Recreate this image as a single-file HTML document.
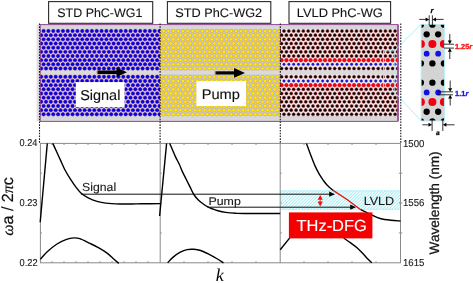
<!DOCTYPE html>
<html><head><meta charset="utf-8"><style>
html,body{margin:0;padding:0;background:#fff;width:473px;height:283px;overflow:hidden}
svg{display:block}
text{text-rendering:geometricPrecision;font-family:"Liberation Sans",Arial,sans-serif}
.serif{font-family:"Liberation Serif","Times New Roman",serif}
</style></head><body>
<svg width="473" height="283" viewBox="0 0 473 283">
<defs>
<clipPath id="c1"><rect x="40" y="24.5" width="120" height="96.5"/></clipPath>
<clipPath id="c2"><rect x="160" y="24.5" width="120" height="96.5"/></clipPath>
<clipPath id="c3"><rect x="280" y="24.5" width="118.5" height="96.5"/></clipPath>
<clipPath id="cu"><rect x="421.1" y="24.3" width="23.3" height="96.6"/></clipPath>
<pattern id="hatch" patternUnits="userSpaceOnUse" width="2.2" height="2.2" patternTransform="rotate(45)">
<rect width="2.2" height="2.2" fill="#fafefe"/><rect width="0.9" height="2.2" fill="#a4ecf2"/></pattern>
</defs>

<rect x="48.6" y="1.6" width="104.1" height="21.7" fill="#fff" stroke="#2a2a2a" stroke-width="1.1"/>
<text x="57.34" y="16.7" font-size="12.36" textLength="84.97" lengthAdjust="spacingAndGlyphs" fill="#141414" stroke="#141414" stroke-width="0.12">STD PhC-WG1</text>
<rect x="167.4" y="1.6" width="103.4" height="21.7" fill="#fff" stroke="#2a2a2a" stroke-width="1.1"/>
<text x="175.33" y="16.7" font-size="12.36" textLength="86.83" lengthAdjust="spacingAndGlyphs" fill="#141414" stroke="#141414" stroke-width="0.12">STD PhC-WG2</text>
<rect x="289.0" y="1.6" width="101.60000000000002" height="21.7" fill="#fff" stroke="#2a2a2a" stroke-width="1.1"/>
<text x="296.84" y="16.7" font-size="12.36" textLength="85.92" lengthAdjust="spacingAndGlyphs" fill="#141414" stroke="#141414" stroke-width="0.12">LVLD PhC-WG</text>
<rect x="36.6" y="24.5" width="2.6" height="96.6" fill="#dedede"/>
<g clip-path="url(#c1)">
<rect x="40" y="24.5" width="120" height="97" fill="#e0c8cc"/>
<rect x="40" y="24.5" width="120" height="4.6" fill="#d8d6d8"/>
<rect x="40" y="116" width="120" height="5.5" fill="#d8d6d8"/>
<rect x="40" y="70.3" width="120" height="4.3" fill="#dadada"/>
<g fill="#0000f0" stroke="#3400a0" stroke-width="0.5"><circle cx="38.77" cy="31.00" r="1.7"/><circle cx="43.60" cy="31.00" r="1.7"/><circle cx="48.43" cy="31.00" r="1.7"/><circle cx="53.26" cy="31.00" r="1.7"/><circle cx="58.09" cy="31.00" r="1.7"/><circle cx="62.92" cy="31.00" r="1.7"/><circle cx="67.75" cy="31.00" r="1.7"/><circle cx="72.58" cy="31.00" r="1.7"/><circle cx="77.41" cy="31.00" r="1.7"/><circle cx="82.24" cy="31.00" r="1.7"/><circle cx="87.07" cy="31.00" r="1.7"/><circle cx="91.90" cy="31.00" r="1.7"/><circle cx="96.73" cy="31.00" r="1.7"/><circle cx="101.56" cy="31.00" r="1.7"/><circle cx="106.39" cy="31.00" r="1.7"/><circle cx="111.22" cy="31.00" r="1.7"/><circle cx="116.05" cy="31.00" r="1.7"/><circle cx="120.88" cy="31.00" r="1.7"/><circle cx="125.71" cy="31.00" r="1.7"/><circle cx="130.54" cy="31.00" r="1.7"/><circle cx="135.37" cy="31.00" r="1.7"/><circle cx="140.20" cy="31.00" r="1.7"/><circle cx="145.03" cy="31.00" r="1.7"/><circle cx="149.86" cy="31.00" r="1.7"/><circle cx="154.69" cy="31.00" r="1.7"/><circle cx="159.52" cy="31.00" r="1.7"/><circle cx="41.19" cy="35.16" r="1.7"/><circle cx="46.02" cy="35.16" r="1.7"/><circle cx="50.84" cy="35.16" r="1.7"/><circle cx="55.67" cy="35.16" r="1.7"/><circle cx="60.50" cy="35.16" r="1.7"/><circle cx="65.33" cy="35.16" r="1.7"/><circle cx="70.16" cy="35.16" r="1.7"/><circle cx="74.99" cy="35.16" r="1.7"/><circle cx="79.82" cy="35.16" r="1.7"/><circle cx="84.65" cy="35.16" r="1.7"/><circle cx="89.48" cy="35.16" r="1.7"/><circle cx="94.31" cy="35.16" r="1.7"/><circle cx="99.14" cy="35.16" r="1.7"/><circle cx="103.97" cy="35.16" r="1.7"/><circle cx="108.80" cy="35.16" r="1.7"/><circle cx="113.63" cy="35.16" r="1.7"/><circle cx="118.46" cy="35.16" r="1.7"/><circle cx="123.29" cy="35.16" r="1.7"/><circle cx="128.12" cy="35.16" r="1.7"/><circle cx="132.95" cy="35.16" r="1.7"/><circle cx="137.78" cy="35.16" r="1.7"/><circle cx="142.62" cy="35.16" r="1.7"/><circle cx="147.45" cy="35.16" r="1.7"/><circle cx="152.28" cy="35.16" r="1.7"/><circle cx="157.11" cy="35.16" r="1.7"/><circle cx="161.94" cy="35.16" r="1.7"/><circle cx="38.77" cy="39.33" r="1.7"/><circle cx="43.60" cy="39.33" r="1.7"/><circle cx="48.43" cy="39.33" r="1.7"/><circle cx="53.26" cy="39.33" r="1.7"/><circle cx="58.09" cy="39.33" r="1.7"/><circle cx="62.92" cy="39.33" r="1.7"/><circle cx="67.75" cy="39.33" r="1.7"/><circle cx="72.58" cy="39.33" r="1.7"/><circle cx="77.41" cy="39.33" r="1.7"/><circle cx="82.24" cy="39.33" r="1.7"/><circle cx="87.07" cy="39.33" r="1.7"/><circle cx="91.90" cy="39.33" r="1.7"/><circle cx="96.73" cy="39.33" r="1.7"/><circle cx="101.56" cy="39.33" r="1.7"/><circle cx="106.39" cy="39.33" r="1.7"/><circle cx="111.22" cy="39.33" r="1.7"/><circle cx="116.05" cy="39.33" r="1.7"/><circle cx="120.88" cy="39.33" r="1.7"/><circle cx="125.71" cy="39.33" r="1.7"/><circle cx="130.54" cy="39.33" r="1.7"/><circle cx="135.37" cy="39.33" r="1.7"/><circle cx="140.20" cy="39.33" r="1.7"/><circle cx="145.03" cy="39.33" r="1.7"/><circle cx="149.86" cy="39.33" r="1.7"/><circle cx="154.69" cy="39.33" r="1.7"/><circle cx="159.52" cy="39.33" r="1.7"/><circle cx="41.19" cy="43.50" r="1.7"/><circle cx="46.02" cy="43.50" r="1.7"/><circle cx="50.84" cy="43.50" r="1.7"/><circle cx="55.67" cy="43.50" r="1.7"/><circle cx="60.50" cy="43.50" r="1.7"/><circle cx="65.33" cy="43.50" r="1.7"/><circle cx="70.16" cy="43.50" r="1.7"/><circle cx="74.99" cy="43.50" r="1.7"/><circle cx="79.82" cy="43.50" r="1.7"/><circle cx="84.65" cy="43.50" r="1.7"/><circle cx="89.48" cy="43.50" r="1.7"/><circle cx="94.31" cy="43.50" r="1.7"/><circle cx="99.14" cy="43.50" r="1.7"/><circle cx="103.97" cy="43.50" r="1.7"/><circle cx="108.80" cy="43.50" r="1.7"/><circle cx="113.63" cy="43.50" r="1.7"/><circle cx="118.46" cy="43.50" r="1.7"/><circle cx="123.29" cy="43.50" r="1.7"/><circle cx="128.12" cy="43.50" r="1.7"/><circle cx="132.95" cy="43.50" r="1.7"/><circle cx="137.78" cy="43.50" r="1.7"/><circle cx="142.62" cy="43.50" r="1.7"/><circle cx="147.45" cy="43.50" r="1.7"/><circle cx="152.28" cy="43.50" r="1.7"/><circle cx="157.11" cy="43.50" r="1.7"/><circle cx="161.94" cy="43.50" r="1.7"/><circle cx="38.77" cy="47.66" r="1.7"/><circle cx="43.60" cy="47.66" r="1.7"/><circle cx="48.43" cy="47.66" r="1.7"/><circle cx="53.26" cy="47.66" r="1.7"/><circle cx="58.09" cy="47.66" r="1.7"/><circle cx="62.92" cy="47.66" r="1.7"/><circle cx="67.75" cy="47.66" r="1.7"/><circle cx="72.58" cy="47.66" r="1.7"/><circle cx="77.41" cy="47.66" r="1.7"/><circle cx="82.24" cy="47.66" r="1.7"/><circle cx="87.07" cy="47.66" r="1.7"/><circle cx="91.90" cy="47.66" r="1.7"/><circle cx="96.73" cy="47.66" r="1.7"/><circle cx="101.56" cy="47.66" r="1.7"/><circle cx="106.39" cy="47.66" r="1.7"/><circle cx="111.22" cy="47.66" r="1.7"/><circle cx="116.05" cy="47.66" r="1.7"/><circle cx="120.88" cy="47.66" r="1.7"/><circle cx="125.71" cy="47.66" r="1.7"/><circle cx="130.54" cy="47.66" r="1.7"/><circle cx="135.37" cy="47.66" r="1.7"/><circle cx="140.20" cy="47.66" r="1.7"/><circle cx="145.03" cy="47.66" r="1.7"/><circle cx="149.86" cy="47.66" r="1.7"/><circle cx="154.69" cy="47.66" r="1.7"/><circle cx="159.52" cy="47.66" r="1.7"/><circle cx="41.19" cy="51.83" r="1.7"/><circle cx="46.02" cy="51.83" r="1.7"/><circle cx="50.84" cy="51.83" r="1.7"/><circle cx="55.67" cy="51.83" r="1.7"/><circle cx="60.50" cy="51.83" r="1.7"/><circle cx="65.33" cy="51.83" r="1.7"/><circle cx="70.16" cy="51.83" r="1.7"/><circle cx="74.99" cy="51.83" r="1.7"/><circle cx="79.82" cy="51.83" r="1.7"/><circle cx="84.65" cy="51.83" r="1.7"/><circle cx="89.48" cy="51.83" r="1.7"/><circle cx="94.31" cy="51.83" r="1.7"/><circle cx="99.14" cy="51.83" r="1.7"/><circle cx="103.97" cy="51.83" r="1.7"/><circle cx="108.80" cy="51.83" r="1.7"/><circle cx="113.63" cy="51.83" r="1.7"/><circle cx="118.46" cy="51.83" r="1.7"/><circle cx="123.29" cy="51.83" r="1.7"/><circle cx="128.12" cy="51.83" r="1.7"/><circle cx="132.95" cy="51.83" r="1.7"/><circle cx="137.78" cy="51.83" r="1.7"/><circle cx="142.62" cy="51.83" r="1.7"/><circle cx="147.45" cy="51.83" r="1.7"/><circle cx="152.28" cy="51.83" r="1.7"/><circle cx="157.11" cy="51.83" r="1.7"/><circle cx="161.94" cy="51.83" r="1.7"/><circle cx="38.77" cy="55.99" r="1.7"/><circle cx="43.60" cy="55.99" r="1.7"/><circle cx="48.43" cy="55.99" r="1.7"/><circle cx="53.26" cy="55.99" r="1.7"/><circle cx="58.09" cy="55.99" r="1.7"/><circle cx="62.92" cy="55.99" r="1.7"/><circle cx="67.75" cy="55.99" r="1.7"/><circle cx="72.58" cy="55.99" r="1.7"/><circle cx="77.41" cy="55.99" r="1.7"/><circle cx="82.24" cy="55.99" r="1.7"/><circle cx="87.07" cy="55.99" r="1.7"/><circle cx="91.90" cy="55.99" r="1.7"/><circle cx="96.73" cy="55.99" r="1.7"/><circle cx="101.56" cy="55.99" r="1.7"/><circle cx="106.39" cy="55.99" r="1.7"/><circle cx="111.22" cy="55.99" r="1.7"/><circle cx="116.05" cy="55.99" r="1.7"/><circle cx="120.88" cy="55.99" r="1.7"/><circle cx="125.71" cy="55.99" r="1.7"/><circle cx="130.54" cy="55.99" r="1.7"/><circle cx="135.37" cy="55.99" r="1.7"/><circle cx="140.20" cy="55.99" r="1.7"/><circle cx="145.03" cy="55.99" r="1.7"/><circle cx="149.86" cy="55.99" r="1.7"/><circle cx="154.69" cy="55.99" r="1.7"/><circle cx="159.52" cy="55.99" r="1.7"/><circle cx="41.19" cy="60.16" r="1.7"/><circle cx="46.02" cy="60.16" r="1.7"/><circle cx="50.84" cy="60.16" r="1.7"/><circle cx="55.67" cy="60.16" r="1.7"/><circle cx="60.50" cy="60.16" r="1.7"/><circle cx="65.33" cy="60.16" r="1.7"/><circle cx="70.16" cy="60.16" r="1.7"/><circle cx="74.99" cy="60.16" r="1.7"/><circle cx="79.82" cy="60.16" r="1.7"/><circle cx="84.65" cy="60.16" r="1.7"/><circle cx="89.48" cy="60.16" r="1.7"/><circle cx="94.31" cy="60.16" r="1.7"/><circle cx="99.14" cy="60.16" r="1.7"/><circle cx="103.97" cy="60.16" r="1.7"/><circle cx="108.80" cy="60.16" r="1.7"/><circle cx="113.63" cy="60.16" r="1.7"/><circle cx="118.46" cy="60.16" r="1.7"/><circle cx="123.29" cy="60.16" r="1.7"/><circle cx="128.12" cy="60.16" r="1.7"/><circle cx="132.95" cy="60.16" r="1.7"/><circle cx="137.78" cy="60.16" r="1.7"/><circle cx="142.62" cy="60.16" r="1.7"/><circle cx="147.45" cy="60.16" r="1.7"/><circle cx="152.28" cy="60.16" r="1.7"/><circle cx="157.11" cy="60.16" r="1.7"/><circle cx="161.94" cy="60.16" r="1.7"/><circle cx="38.77" cy="64.32" r="1.7"/><circle cx="43.60" cy="64.32" r="1.7"/><circle cx="48.43" cy="64.32" r="1.7"/><circle cx="53.26" cy="64.32" r="1.7"/><circle cx="58.09" cy="64.32" r="1.7"/><circle cx="62.92" cy="64.32" r="1.7"/><circle cx="67.75" cy="64.32" r="1.7"/><circle cx="72.58" cy="64.32" r="1.7"/><circle cx="77.41" cy="64.32" r="1.7"/><circle cx="82.24" cy="64.32" r="1.7"/><circle cx="87.07" cy="64.32" r="1.7"/><circle cx="91.90" cy="64.32" r="1.7"/><circle cx="96.73" cy="64.32" r="1.7"/><circle cx="101.56" cy="64.32" r="1.7"/><circle cx="106.39" cy="64.32" r="1.7"/><circle cx="111.22" cy="64.32" r="1.7"/><circle cx="116.05" cy="64.32" r="1.7"/><circle cx="120.88" cy="64.32" r="1.7"/><circle cx="125.71" cy="64.32" r="1.7"/><circle cx="130.54" cy="64.32" r="1.7"/><circle cx="135.37" cy="64.32" r="1.7"/><circle cx="140.20" cy="64.32" r="1.7"/><circle cx="145.03" cy="64.32" r="1.7"/><circle cx="149.86" cy="64.32" r="1.7"/><circle cx="154.69" cy="64.32" r="1.7"/><circle cx="159.52" cy="64.32" r="1.7"/><circle cx="41.19" cy="68.48" r="1.7"/><circle cx="46.02" cy="68.48" r="1.7"/><circle cx="50.84" cy="68.48" r="1.7"/><circle cx="55.67" cy="68.48" r="1.7"/><circle cx="60.50" cy="68.48" r="1.7"/><circle cx="65.33" cy="68.48" r="1.7"/><circle cx="70.16" cy="68.48" r="1.7"/><circle cx="74.99" cy="68.48" r="1.7"/><circle cx="79.82" cy="68.48" r="1.7"/><circle cx="84.65" cy="68.48" r="1.7"/><circle cx="89.48" cy="68.48" r="1.7"/><circle cx="94.31" cy="68.48" r="1.7"/><circle cx="99.14" cy="68.48" r="1.7"/><circle cx="103.97" cy="68.48" r="1.7"/><circle cx="108.80" cy="68.48" r="1.7"/><circle cx="113.63" cy="68.48" r="1.7"/><circle cx="118.46" cy="68.48" r="1.7"/><circle cx="123.29" cy="68.48" r="1.7"/><circle cx="128.12" cy="68.48" r="1.7"/><circle cx="132.95" cy="68.48" r="1.7"/><circle cx="137.78" cy="68.48" r="1.7"/><circle cx="142.62" cy="68.48" r="1.7"/><circle cx="147.45" cy="68.48" r="1.7"/><circle cx="152.28" cy="68.48" r="1.7"/><circle cx="157.11" cy="68.48" r="1.7"/><circle cx="161.94" cy="68.48" r="1.7"/><circle cx="41.19" cy="76.81" r="1.7"/><circle cx="46.02" cy="76.81" r="1.7"/><circle cx="50.84" cy="76.81" r="1.7"/><circle cx="55.67" cy="76.81" r="1.7"/><circle cx="60.50" cy="76.81" r="1.7"/><circle cx="65.33" cy="76.81" r="1.7"/><circle cx="70.16" cy="76.81" r="1.7"/><circle cx="74.99" cy="76.81" r="1.7"/><circle cx="79.82" cy="76.81" r="1.7"/><circle cx="84.65" cy="76.81" r="1.7"/><circle cx="89.48" cy="76.81" r="1.7"/><circle cx="94.31" cy="76.81" r="1.7"/><circle cx="99.14" cy="76.81" r="1.7"/><circle cx="103.97" cy="76.81" r="1.7"/><circle cx="108.80" cy="76.81" r="1.7"/><circle cx="113.63" cy="76.81" r="1.7"/><circle cx="118.46" cy="76.81" r="1.7"/><circle cx="123.29" cy="76.81" r="1.7"/><circle cx="128.12" cy="76.81" r="1.7"/><circle cx="132.95" cy="76.81" r="1.7"/><circle cx="137.78" cy="76.81" r="1.7"/><circle cx="142.62" cy="76.81" r="1.7"/><circle cx="147.45" cy="76.81" r="1.7"/><circle cx="152.28" cy="76.81" r="1.7"/><circle cx="157.11" cy="76.81" r="1.7"/><circle cx="161.94" cy="76.81" r="1.7"/><circle cx="38.77" cy="80.98" r="1.7"/><circle cx="43.60" cy="80.98" r="1.7"/><circle cx="48.43" cy="80.98" r="1.7"/><circle cx="53.26" cy="80.98" r="1.7"/><circle cx="58.09" cy="80.98" r="1.7"/><circle cx="62.92" cy="80.98" r="1.7"/><circle cx="67.75" cy="80.98" r="1.7"/><circle cx="72.58" cy="80.98" r="1.7"/><circle cx="77.41" cy="80.98" r="1.7"/><circle cx="82.24" cy="80.98" r="1.7"/><circle cx="87.07" cy="80.98" r="1.7"/><circle cx="91.90" cy="80.98" r="1.7"/><circle cx="96.73" cy="80.98" r="1.7"/><circle cx="101.56" cy="80.98" r="1.7"/><circle cx="106.39" cy="80.98" r="1.7"/><circle cx="111.22" cy="80.98" r="1.7"/><circle cx="116.05" cy="80.98" r="1.7"/><circle cx="120.88" cy="80.98" r="1.7"/><circle cx="125.71" cy="80.98" r="1.7"/><circle cx="130.54" cy="80.98" r="1.7"/><circle cx="135.37" cy="80.98" r="1.7"/><circle cx="140.20" cy="80.98" r="1.7"/><circle cx="145.03" cy="80.98" r="1.7"/><circle cx="149.86" cy="80.98" r="1.7"/><circle cx="154.69" cy="80.98" r="1.7"/><circle cx="159.52" cy="80.98" r="1.7"/><circle cx="41.19" cy="85.15" r="1.7"/><circle cx="46.02" cy="85.15" r="1.7"/><circle cx="50.84" cy="85.15" r="1.7"/><circle cx="55.67" cy="85.15" r="1.7"/><circle cx="60.50" cy="85.15" r="1.7"/><circle cx="65.33" cy="85.15" r="1.7"/><circle cx="70.16" cy="85.15" r="1.7"/><circle cx="74.99" cy="85.15" r="1.7"/><circle cx="79.82" cy="85.15" r="1.7"/><circle cx="84.65" cy="85.15" r="1.7"/><circle cx="89.48" cy="85.15" r="1.7"/><circle cx="94.31" cy="85.15" r="1.7"/><circle cx="99.14" cy="85.15" r="1.7"/><circle cx="103.97" cy="85.15" r="1.7"/><circle cx="108.80" cy="85.15" r="1.7"/><circle cx="113.63" cy="85.15" r="1.7"/><circle cx="118.46" cy="85.15" r="1.7"/><circle cx="123.29" cy="85.15" r="1.7"/><circle cx="128.12" cy="85.15" r="1.7"/><circle cx="132.95" cy="85.15" r="1.7"/><circle cx="137.78" cy="85.15" r="1.7"/><circle cx="142.62" cy="85.15" r="1.7"/><circle cx="147.45" cy="85.15" r="1.7"/><circle cx="152.28" cy="85.15" r="1.7"/><circle cx="157.11" cy="85.15" r="1.7"/><circle cx="161.94" cy="85.15" r="1.7"/><circle cx="38.77" cy="89.31" r="1.7"/><circle cx="43.60" cy="89.31" r="1.7"/><circle cx="48.43" cy="89.31" r="1.7"/><circle cx="53.26" cy="89.31" r="1.7"/><circle cx="58.09" cy="89.31" r="1.7"/><circle cx="62.92" cy="89.31" r="1.7"/><circle cx="67.75" cy="89.31" r="1.7"/><circle cx="72.58" cy="89.31" r="1.7"/><circle cx="77.41" cy="89.31" r="1.7"/><circle cx="82.24" cy="89.31" r="1.7"/><circle cx="87.07" cy="89.31" r="1.7"/><circle cx="91.90" cy="89.31" r="1.7"/><circle cx="96.73" cy="89.31" r="1.7"/><circle cx="101.56" cy="89.31" r="1.7"/><circle cx="106.39" cy="89.31" r="1.7"/><circle cx="111.22" cy="89.31" r="1.7"/><circle cx="116.05" cy="89.31" r="1.7"/><circle cx="120.88" cy="89.31" r="1.7"/><circle cx="125.71" cy="89.31" r="1.7"/><circle cx="130.54" cy="89.31" r="1.7"/><circle cx="135.37" cy="89.31" r="1.7"/><circle cx="140.20" cy="89.31" r="1.7"/><circle cx="145.03" cy="89.31" r="1.7"/><circle cx="149.86" cy="89.31" r="1.7"/><circle cx="154.69" cy="89.31" r="1.7"/><circle cx="159.52" cy="89.31" r="1.7"/><circle cx="41.19" cy="93.47" r="1.7"/><circle cx="46.02" cy="93.47" r="1.7"/><circle cx="50.84" cy="93.47" r="1.7"/><circle cx="55.67" cy="93.47" r="1.7"/><circle cx="60.50" cy="93.47" r="1.7"/><circle cx="65.33" cy="93.47" r="1.7"/><circle cx="70.16" cy="93.47" r="1.7"/><circle cx="74.99" cy="93.47" r="1.7"/><circle cx="79.82" cy="93.47" r="1.7"/><circle cx="84.65" cy="93.47" r="1.7"/><circle cx="89.48" cy="93.47" r="1.7"/><circle cx="94.31" cy="93.47" r="1.7"/><circle cx="99.14" cy="93.47" r="1.7"/><circle cx="103.97" cy="93.47" r="1.7"/><circle cx="108.80" cy="93.47" r="1.7"/><circle cx="113.63" cy="93.47" r="1.7"/><circle cx="118.46" cy="93.47" r="1.7"/><circle cx="123.29" cy="93.47" r="1.7"/><circle cx="128.12" cy="93.47" r="1.7"/><circle cx="132.95" cy="93.47" r="1.7"/><circle cx="137.78" cy="93.47" r="1.7"/><circle cx="142.62" cy="93.47" r="1.7"/><circle cx="147.45" cy="93.47" r="1.7"/><circle cx="152.28" cy="93.47" r="1.7"/><circle cx="157.11" cy="93.47" r="1.7"/><circle cx="161.94" cy="93.47" r="1.7"/><circle cx="38.77" cy="97.64" r="1.7"/><circle cx="43.60" cy="97.64" r="1.7"/><circle cx="48.43" cy="97.64" r="1.7"/><circle cx="53.26" cy="97.64" r="1.7"/><circle cx="58.09" cy="97.64" r="1.7"/><circle cx="62.92" cy="97.64" r="1.7"/><circle cx="67.75" cy="97.64" r="1.7"/><circle cx="72.58" cy="97.64" r="1.7"/><circle cx="77.41" cy="97.64" r="1.7"/><circle cx="82.24" cy="97.64" r="1.7"/><circle cx="87.07" cy="97.64" r="1.7"/><circle cx="91.90" cy="97.64" r="1.7"/><circle cx="96.73" cy="97.64" r="1.7"/><circle cx="101.56" cy="97.64" r="1.7"/><circle cx="106.39" cy="97.64" r="1.7"/><circle cx="111.22" cy="97.64" r="1.7"/><circle cx="116.05" cy="97.64" r="1.7"/><circle cx="120.88" cy="97.64" r="1.7"/><circle cx="125.71" cy="97.64" r="1.7"/><circle cx="130.54" cy="97.64" r="1.7"/><circle cx="135.37" cy="97.64" r="1.7"/><circle cx="140.20" cy="97.64" r="1.7"/><circle cx="145.03" cy="97.64" r="1.7"/><circle cx="149.86" cy="97.64" r="1.7"/><circle cx="154.69" cy="97.64" r="1.7"/><circle cx="159.52" cy="97.64" r="1.7"/><circle cx="41.19" cy="101.81" r="1.7"/><circle cx="46.02" cy="101.81" r="1.7"/><circle cx="50.84" cy="101.81" r="1.7"/><circle cx="55.67" cy="101.81" r="1.7"/><circle cx="60.50" cy="101.81" r="1.7"/><circle cx="65.33" cy="101.81" r="1.7"/><circle cx="70.16" cy="101.81" r="1.7"/><circle cx="74.99" cy="101.81" r="1.7"/><circle cx="79.82" cy="101.81" r="1.7"/><circle cx="84.65" cy="101.81" r="1.7"/><circle cx="89.48" cy="101.81" r="1.7"/><circle cx="94.31" cy="101.81" r="1.7"/><circle cx="99.14" cy="101.81" r="1.7"/><circle cx="103.97" cy="101.81" r="1.7"/><circle cx="108.80" cy="101.81" r="1.7"/><circle cx="113.63" cy="101.81" r="1.7"/><circle cx="118.46" cy="101.81" r="1.7"/><circle cx="123.29" cy="101.81" r="1.7"/><circle cx="128.12" cy="101.81" r="1.7"/><circle cx="132.95" cy="101.81" r="1.7"/><circle cx="137.78" cy="101.81" r="1.7"/><circle cx="142.62" cy="101.81" r="1.7"/><circle cx="147.45" cy="101.81" r="1.7"/><circle cx="152.28" cy="101.81" r="1.7"/><circle cx="157.11" cy="101.81" r="1.7"/><circle cx="161.94" cy="101.81" r="1.7"/><circle cx="38.77" cy="105.97" r="1.7"/><circle cx="43.60" cy="105.97" r="1.7"/><circle cx="48.43" cy="105.97" r="1.7"/><circle cx="53.26" cy="105.97" r="1.7"/><circle cx="58.09" cy="105.97" r="1.7"/><circle cx="62.92" cy="105.97" r="1.7"/><circle cx="67.75" cy="105.97" r="1.7"/><circle cx="72.58" cy="105.97" r="1.7"/><circle cx="77.41" cy="105.97" r="1.7"/><circle cx="82.24" cy="105.97" r="1.7"/><circle cx="87.07" cy="105.97" r="1.7"/><circle cx="91.90" cy="105.97" r="1.7"/><circle cx="96.73" cy="105.97" r="1.7"/><circle cx="101.56" cy="105.97" r="1.7"/><circle cx="106.39" cy="105.97" r="1.7"/><circle cx="111.22" cy="105.97" r="1.7"/><circle cx="116.05" cy="105.97" r="1.7"/><circle cx="120.88" cy="105.97" r="1.7"/><circle cx="125.71" cy="105.97" r="1.7"/><circle cx="130.54" cy="105.97" r="1.7"/><circle cx="135.37" cy="105.97" r="1.7"/><circle cx="140.20" cy="105.97" r="1.7"/><circle cx="145.03" cy="105.97" r="1.7"/><circle cx="149.86" cy="105.97" r="1.7"/><circle cx="154.69" cy="105.97" r="1.7"/><circle cx="159.52" cy="105.97" r="1.7"/><circle cx="41.19" cy="110.14" r="1.7"/><circle cx="46.02" cy="110.14" r="1.7"/><circle cx="50.84" cy="110.14" r="1.7"/><circle cx="55.67" cy="110.14" r="1.7"/><circle cx="60.50" cy="110.14" r="1.7"/><circle cx="65.33" cy="110.14" r="1.7"/><circle cx="70.16" cy="110.14" r="1.7"/><circle cx="74.99" cy="110.14" r="1.7"/><circle cx="79.82" cy="110.14" r="1.7"/><circle cx="84.65" cy="110.14" r="1.7"/><circle cx="89.48" cy="110.14" r="1.7"/><circle cx="94.31" cy="110.14" r="1.7"/><circle cx="99.14" cy="110.14" r="1.7"/><circle cx="103.97" cy="110.14" r="1.7"/><circle cx="108.80" cy="110.14" r="1.7"/><circle cx="113.63" cy="110.14" r="1.7"/><circle cx="118.46" cy="110.14" r="1.7"/><circle cx="123.29" cy="110.14" r="1.7"/><circle cx="128.12" cy="110.14" r="1.7"/><circle cx="132.95" cy="110.14" r="1.7"/><circle cx="137.78" cy="110.14" r="1.7"/><circle cx="142.62" cy="110.14" r="1.7"/><circle cx="147.45" cy="110.14" r="1.7"/><circle cx="152.28" cy="110.14" r="1.7"/><circle cx="157.11" cy="110.14" r="1.7"/><circle cx="161.94" cy="110.14" r="1.7"/><circle cx="38.77" cy="114.30" r="1.7"/><circle cx="43.60" cy="114.30" r="1.7"/><circle cx="48.43" cy="114.30" r="1.7"/><circle cx="53.26" cy="114.30" r="1.7"/><circle cx="58.09" cy="114.30" r="1.7"/><circle cx="62.92" cy="114.30" r="1.7"/><circle cx="67.75" cy="114.30" r="1.7"/><circle cx="72.58" cy="114.30" r="1.7"/><circle cx="77.41" cy="114.30" r="1.7"/><circle cx="82.24" cy="114.30" r="1.7"/><circle cx="87.07" cy="114.30" r="1.7"/><circle cx="91.90" cy="114.30" r="1.7"/><circle cx="96.73" cy="114.30" r="1.7"/><circle cx="101.56" cy="114.30" r="1.7"/><circle cx="106.39" cy="114.30" r="1.7"/><circle cx="111.22" cy="114.30" r="1.7"/><circle cx="116.05" cy="114.30" r="1.7"/><circle cx="120.88" cy="114.30" r="1.7"/><circle cx="125.71" cy="114.30" r="1.7"/><circle cx="130.54" cy="114.30" r="1.7"/><circle cx="135.37" cy="114.30" r="1.7"/><circle cx="140.20" cy="114.30" r="1.7"/><circle cx="145.03" cy="114.30" r="1.7"/><circle cx="149.86" cy="114.30" r="1.7"/><circle cx="154.69" cy="114.30" r="1.7"/><circle cx="159.52" cy="114.30" r="1.7"/></g>
</g>
<g clip-path="url(#c2)">
<rect x="160" y="24.5" width="120" height="97" fill="#ccc6d2"/>
<rect x="160" y="24.5" width="120" height="4.6" fill="#d8d6d8"/>
<rect x="160" y="116" width="120" height="5.5" fill="#d8d6d8"/>
<rect x="160" y="70.3" width="120" height="4.3" fill="#dadada"/>
<g fill="#fff200" stroke="#e09a00" stroke-width="0.45"><circle cx="158.77" cy="31.00" r="1.62"/><circle cx="163.60" cy="31.00" r="1.62"/><circle cx="168.43" cy="31.00" r="1.62"/><circle cx="173.26" cy="31.00" r="1.62"/><circle cx="178.09" cy="31.00" r="1.62"/><circle cx="182.92" cy="31.00" r="1.62"/><circle cx="187.75" cy="31.00" r="1.62"/><circle cx="192.58" cy="31.00" r="1.62"/><circle cx="197.41" cy="31.00" r="1.62"/><circle cx="202.24" cy="31.00" r="1.62"/><circle cx="207.07" cy="31.00" r="1.62"/><circle cx="211.90" cy="31.00" r="1.62"/><circle cx="216.73" cy="31.00" r="1.62"/><circle cx="221.56" cy="31.00" r="1.62"/><circle cx="226.39" cy="31.00" r="1.62"/><circle cx="231.22" cy="31.00" r="1.62"/><circle cx="236.05" cy="31.00" r="1.62"/><circle cx="240.88" cy="31.00" r="1.62"/><circle cx="245.71" cy="31.00" r="1.62"/><circle cx="250.54" cy="31.00" r="1.62"/><circle cx="255.37" cy="31.00" r="1.62"/><circle cx="260.20" cy="31.00" r="1.62"/><circle cx="265.03" cy="31.00" r="1.62"/><circle cx="269.86" cy="31.00" r="1.62"/><circle cx="274.69" cy="31.00" r="1.62"/><circle cx="279.52" cy="31.00" r="1.62"/><circle cx="161.19" cy="35.16" r="1.62"/><circle cx="166.02" cy="35.16" r="1.62"/><circle cx="170.85" cy="35.16" r="1.62"/><circle cx="175.68" cy="35.16" r="1.62"/><circle cx="180.51" cy="35.16" r="1.62"/><circle cx="185.34" cy="35.16" r="1.62"/><circle cx="190.17" cy="35.16" r="1.62"/><circle cx="195.00" cy="35.16" r="1.62"/><circle cx="199.83" cy="35.16" r="1.62"/><circle cx="204.66" cy="35.16" r="1.62"/><circle cx="209.49" cy="35.16" r="1.62"/><circle cx="214.32" cy="35.16" r="1.62"/><circle cx="219.15" cy="35.16" r="1.62"/><circle cx="223.98" cy="35.16" r="1.62"/><circle cx="228.81" cy="35.16" r="1.62"/><circle cx="233.64" cy="35.16" r="1.62"/><circle cx="238.47" cy="35.16" r="1.62"/><circle cx="243.30" cy="35.16" r="1.62"/><circle cx="248.13" cy="35.16" r="1.62"/><circle cx="252.96" cy="35.16" r="1.62"/><circle cx="257.79" cy="35.16" r="1.62"/><circle cx="262.62" cy="35.16" r="1.62"/><circle cx="267.45" cy="35.16" r="1.62"/><circle cx="272.28" cy="35.16" r="1.62"/><circle cx="277.11" cy="35.16" r="1.62"/><circle cx="281.94" cy="35.16" r="1.62"/><circle cx="158.77" cy="39.33" r="1.62"/><circle cx="163.60" cy="39.33" r="1.62"/><circle cx="168.43" cy="39.33" r="1.62"/><circle cx="173.26" cy="39.33" r="1.62"/><circle cx="178.09" cy="39.33" r="1.62"/><circle cx="182.92" cy="39.33" r="1.62"/><circle cx="187.75" cy="39.33" r="1.62"/><circle cx="192.58" cy="39.33" r="1.62"/><circle cx="197.41" cy="39.33" r="1.62"/><circle cx="202.24" cy="39.33" r="1.62"/><circle cx="207.07" cy="39.33" r="1.62"/><circle cx="211.90" cy="39.33" r="1.62"/><circle cx="216.73" cy="39.33" r="1.62"/><circle cx="221.56" cy="39.33" r="1.62"/><circle cx="226.39" cy="39.33" r="1.62"/><circle cx="231.22" cy="39.33" r="1.62"/><circle cx="236.05" cy="39.33" r="1.62"/><circle cx="240.88" cy="39.33" r="1.62"/><circle cx="245.71" cy="39.33" r="1.62"/><circle cx="250.54" cy="39.33" r="1.62"/><circle cx="255.37" cy="39.33" r="1.62"/><circle cx="260.20" cy="39.33" r="1.62"/><circle cx="265.03" cy="39.33" r="1.62"/><circle cx="269.86" cy="39.33" r="1.62"/><circle cx="274.69" cy="39.33" r="1.62"/><circle cx="279.52" cy="39.33" r="1.62"/><circle cx="161.19" cy="43.50" r="1.62"/><circle cx="166.02" cy="43.50" r="1.62"/><circle cx="170.85" cy="43.50" r="1.62"/><circle cx="175.68" cy="43.50" r="1.62"/><circle cx="180.51" cy="43.50" r="1.62"/><circle cx="185.34" cy="43.50" r="1.62"/><circle cx="190.17" cy="43.50" r="1.62"/><circle cx="195.00" cy="43.50" r="1.62"/><circle cx="199.83" cy="43.50" r="1.62"/><circle cx="204.66" cy="43.50" r="1.62"/><circle cx="209.49" cy="43.50" r="1.62"/><circle cx="214.32" cy="43.50" r="1.62"/><circle cx="219.15" cy="43.50" r="1.62"/><circle cx="223.98" cy="43.50" r="1.62"/><circle cx="228.81" cy="43.50" r="1.62"/><circle cx="233.64" cy="43.50" r="1.62"/><circle cx="238.47" cy="43.50" r="1.62"/><circle cx="243.30" cy="43.50" r="1.62"/><circle cx="248.13" cy="43.50" r="1.62"/><circle cx="252.96" cy="43.50" r="1.62"/><circle cx="257.79" cy="43.50" r="1.62"/><circle cx="262.62" cy="43.50" r="1.62"/><circle cx="267.45" cy="43.50" r="1.62"/><circle cx="272.28" cy="43.50" r="1.62"/><circle cx="277.11" cy="43.50" r="1.62"/><circle cx="281.94" cy="43.50" r="1.62"/><circle cx="158.77" cy="47.66" r="1.62"/><circle cx="163.60" cy="47.66" r="1.62"/><circle cx="168.43" cy="47.66" r="1.62"/><circle cx="173.26" cy="47.66" r="1.62"/><circle cx="178.09" cy="47.66" r="1.62"/><circle cx="182.92" cy="47.66" r="1.62"/><circle cx="187.75" cy="47.66" r="1.62"/><circle cx="192.58" cy="47.66" r="1.62"/><circle cx="197.41" cy="47.66" r="1.62"/><circle cx="202.24" cy="47.66" r="1.62"/><circle cx="207.07" cy="47.66" r="1.62"/><circle cx="211.90" cy="47.66" r="1.62"/><circle cx="216.73" cy="47.66" r="1.62"/><circle cx="221.56" cy="47.66" r="1.62"/><circle cx="226.39" cy="47.66" r="1.62"/><circle cx="231.22" cy="47.66" r="1.62"/><circle cx="236.05" cy="47.66" r="1.62"/><circle cx="240.88" cy="47.66" r="1.62"/><circle cx="245.71" cy="47.66" r="1.62"/><circle cx="250.54" cy="47.66" r="1.62"/><circle cx="255.37" cy="47.66" r="1.62"/><circle cx="260.20" cy="47.66" r="1.62"/><circle cx="265.03" cy="47.66" r="1.62"/><circle cx="269.86" cy="47.66" r="1.62"/><circle cx="274.69" cy="47.66" r="1.62"/><circle cx="279.52" cy="47.66" r="1.62"/><circle cx="161.19" cy="51.83" r="1.62"/><circle cx="166.02" cy="51.83" r="1.62"/><circle cx="170.85" cy="51.83" r="1.62"/><circle cx="175.68" cy="51.83" r="1.62"/><circle cx="180.51" cy="51.83" r="1.62"/><circle cx="185.34" cy="51.83" r="1.62"/><circle cx="190.17" cy="51.83" r="1.62"/><circle cx="195.00" cy="51.83" r="1.62"/><circle cx="199.83" cy="51.83" r="1.62"/><circle cx="204.66" cy="51.83" r="1.62"/><circle cx="209.49" cy="51.83" r="1.62"/><circle cx="214.32" cy="51.83" r="1.62"/><circle cx="219.15" cy="51.83" r="1.62"/><circle cx="223.98" cy="51.83" r="1.62"/><circle cx="228.81" cy="51.83" r="1.62"/><circle cx="233.64" cy="51.83" r="1.62"/><circle cx="238.47" cy="51.83" r="1.62"/><circle cx="243.30" cy="51.83" r="1.62"/><circle cx="248.13" cy="51.83" r="1.62"/><circle cx="252.96" cy="51.83" r="1.62"/><circle cx="257.79" cy="51.83" r="1.62"/><circle cx="262.62" cy="51.83" r="1.62"/><circle cx="267.45" cy="51.83" r="1.62"/><circle cx="272.28" cy="51.83" r="1.62"/><circle cx="277.11" cy="51.83" r="1.62"/><circle cx="281.94" cy="51.83" r="1.62"/><circle cx="158.77" cy="55.99" r="1.62"/><circle cx="163.60" cy="55.99" r="1.62"/><circle cx="168.43" cy="55.99" r="1.62"/><circle cx="173.26" cy="55.99" r="1.62"/><circle cx="178.09" cy="55.99" r="1.62"/><circle cx="182.92" cy="55.99" r="1.62"/><circle cx="187.75" cy="55.99" r="1.62"/><circle cx="192.58" cy="55.99" r="1.62"/><circle cx="197.41" cy="55.99" r="1.62"/><circle cx="202.24" cy="55.99" r="1.62"/><circle cx="207.07" cy="55.99" r="1.62"/><circle cx="211.90" cy="55.99" r="1.62"/><circle cx="216.73" cy="55.99" r="1.62"/><circle cx="221.56" cy="55.99" r="1.62"/><circle cx="226.39" cy="55.99" r="1.62"/><circle cx="231.22" cy="55.99" r="1.62"/><circle cx="236.05" cy="55.99" r="1.62"/><circle cx="240.88" cy="55.99" r="1.62"/><circle cx="245.71" cy="55.99" r="1.62"/><circle cx="250.54" cy="55.99" r="1.62"/><circle cx="255.37" cy="55.99" r="1.62"/><circle cx="260.20" cy="55.99" r="1.62"/><circle cx="265.03" cy="55.99" r="1.62"/><circle cx="269.86" cy="55.99" r="1.62"/><circle cx="274.69" cy="55.99" r="1.62"/><circle cx="279.52" cy="55.99" r="1.62"/><circle cx="161.19" cy="60.16" r="1.62"/><circle cx="166.02" cy="60.16" r="1.62"/><circle cx="170.85" cy="60.16" r="1.62"/><circle cx="175.68" cy="60.16" r="1.62"/><circle cx="180.51" cy="60.16" r="1.62"/><circle cx="185.34" cy="60.16" r="1.62"/><circle cx="190.17" cy="60.16" r="1.62"/><circle cx="195.00" cy="60.16" r="1.62"/><circle cx="199.83" cy="60.16" r="1.62"/><circle cx="204.66" cy="60.16" r="1.62"/><circle cx="209.49" cy="60.16" r="1.62"/><circle cx="214.32" cy="60.16" r="1.62"/><circle cx="219.15" cy="60.16" r="1.62"/><circle cx="223.98" cy="60.16" r="1.62"/><circle cx="228.81" cy="60.16" r="1.62"/><circle cx="233.64" cy="60.16" r="1.62"/><circle cx="238.47" cy="60.16" r="1.62"/><circle cx="243.30" cy="60.16" r="1.62"/><circle cx="248.13" cy="60.16" r="1.62"/><circle cx="252.96" cy="60.16" r="1.62"/><circle cx="257.79" cy="60.16" r="1.62"/><circle cx="262.62" cy="60.16" r="1.62"/><circle cx="267.45" cy="60.16" r="1.62"/><circle cx="272.28" cy="60.16" r="1.62"/><circle cx="277.11" cy="60.16" r="1.62"/><circle cx="281.94" cy="60.16" r="1.62"/><circle cx="158.77" cy="64.32" r="1.62"/><circle cx="163.60" cy="64.32" r="1.62"/><circle cx="168.43" cy="64.32" r="1.62"/><circle cx="173.26" cy="64.32" r="1.62"/><circle cx="178.09" cy="64.32" r="1.62"/><circle cx="182.92" cy="64.32" r="1.62"/><circle cx="187.75" cy="64.32" r="1.62"/><circle cx="192.58" cy="64.32" r="1.62"/><circle cx="197.41" cy="64.32" r="1.62"/><circle cx="202.24" cy="64.32" r="1.62"/><circle cx="207.07" cy="64.32" r="1.62"/><circle cx="211.90" cy="64.32" r="1.62"/><circle cx="216.73" cy="64.32" r="1.62"/><circle cx="221.56" cy="64.32" r="1.62"/><circle cx="226.39" cy="64.32" r="1.62"/><circle cx="231.22" cy="64.32" r="1.62"/><circle cx="236.05" cy="64.32" r="1.62"/><circle cx="240.88" cy="64.32" r="1.62"/><circle cx="245.71" cy="64.32" r="1.62"/><circle cx="250.54" cy="64.32" r="1.62"/><circle cx="255.37" cy="64.32" r="1.62"/><circle cx="260.20" cy="64.32" r="1.62"/><circle cx="265.03" cy="64.32" r="1.62"/><circle cx="269.86" cy="64.32" r="1.62"/><circle cx="274.69" cy="64.32" r="1.62"/><circle cx="279.52" cy="64.32" r="1.62"/><circle cx="161.19" cy="68.48" r="1.62"/><circle cx="166.02" cy="68.48" r="1.62"/><circle cx="170.85" cy="68.48" r="1.62"/><circle cx="175.68" cy="68.48" r="1.62"/><circle cx="180.51" cy="68.48" r="1.62"/><circle cx="185.34" cy="68.48" r="1.62"/><circle cx="190.17" cy="68.48" r="1.62"/><circle cx="195.00" cy="68.48" r="1.62"/><circle cx="199.83" cy="68.48" r="1.62"/><circle cx="204.66" cy="68.48" r="1.62"/><circle cx="209.49" cy="68.48" r="1.62"/><circle cx="214.32" cy="68.48" r="1.62"/><circle cx="219.15" cy="68.48" r="1.62"/><circle cx="223.98" cy="68.48" r="1.62"/><circle cx="228.81" cy="68.48" r="1.62"/><circle cx="233.64" cy="68.48" r="1.62"/><circle cx="238.47" cy="68.48" r="1.62"/><circle cx="243.30" cy="68.48" r="1.62"/><circle cx="248.13" cy="68.48" r="1.62"/><circle cx="252.96" cy="68.48" r="1.62"/><circle cx="257.79" cy="68.48" r="1.62"/><circle cx="262.62" cy="68.48" r="1.62"/><circle cx="267.45" cy="68.48" r="1.62"/><circle cx="272.28" cy="68.48" r="1.62"/><circle cx="277.11" cy="68.48" r="1.62"/><circle cx="281.94" cy="68.48" r="1.62"/><circle cx="161.19" cy="76.81" r="1.62"/><circle cx="166.02" cy="76.81" r="1.62"/><circle cx="170.85" cy="76.81" r="1.62"/><circle cx="175.68" cy="76.81" r="1.62"/><circle cx="180.51" cy="76.81" r="1.62"/><circle cx="185.34" cy="76.81" r="1.62"/><circle cx="190.17" cy="76.81" r="1.62"/><circle cx="195.00" cy="76.81" r="1.62"/><circle cx="199.83" cy="76.81" r="1.62"/><circle cx="204.66" cy="76.81" r="1.62"/><circle cx="209.49" cy="76.81" r="1.62"/><circle cx="214.32" cy="76.81" r="1.62"/><circle cx="219.15" cy="76.81" r="1.62"/><circle cx="223.98" cy="76.81" r="1.62"/><circle cx="228.81" cy="76.81" r="1.62"/><circle cx="233.64" cy="76.81" r="1.62"/><circle cx="238.47" cy="76.81" r="1.62"/><circle cx="243.30" cy="76.81" r="1.62"/><circle cx="248.13" cy="76.81" r="1.62"/><circle cx="252.96" cy="76.81" r="1.62"/><circle cx="257.79" cy="76.81" r="1.62"/><circle cx="262.62" cy="76.81" r="1.62"/><circle cx="267.45" cy="76.81" r="1.62"/><circle cx="272.28" cy="76.81" r="1.62"/><circle cx="277.11" cy="76.81" r="1.62"/><circle cx="281.94" cy="76.81" r="1.62"/><circle cx="158.77" cy="80.98" r="1.62"/><circle cx="163.60" cy="80.98" r="1.62"/><circle cx="168.43" cy="80.98" r="1.62"/><circle cx="173.26" cy="80.98" r="1.62"/><circle cx="178.09" cy="80.98" r="1.62"/><circle cx="182.92" cy="80.98" r="1.62"/><circle cx="187.75" cy="80.98" r="1.62"/><circle cx="192.58" cy="80.98" r="1.62"/><circle cx="197.41" cy="80.98" r="1.62"/><circle cx="202.24" cy="80.98" r="1.62"/><circle cx="207.07" cy="80.98" r="1.62"/><circle cx="211.90" cy="80.98" r="1.62"/><circle cx="216.73" cy="80.98" r="1.62"/><circle cx="221.56" cy="80.98" r="1.62"/><circle cx="226.39" cy="80.98" r="1.62"/><circle cx="231.22" cy="80.98" r="1.62"/><circle cx="236.05" cy="80.98" r="1.62"/><circle cx="240.88" cy="80.98" r="1.62"/><circle cx="245.71" cy="80.98" r="1.62"/><circle cx="250.54" cy="80.98" r="1.62"/><circle cx="255.37" cy="80.98" r="1.62"/><circle cx="260.20" cy="80.98" r="1.62"/><circle cx="265.03" cy="80.98" r="1.62"/><circle cx="269.86" cy="80.98" r="1.62"/><circle cx="274.69" cy="80.98" r="1.62"/><circle cx="279.52" cy="80.98" r="1.62"/><circle cx="161.19" cy="85.15" r="1.62"/><circle cx="166.02" cy="85.15" r="1.62"/><circle cx="170.85" cy="85.15" r="1.62"/><circle cx="175.68" cy="85.15" r="1.62"/><circle cx="180.51" cy="85.15" r="1.62"/><circle cx="185.34" cy="85.15" r="1.62"/><circle cx="190.17" cy="85.15" r="1.62"/><circle cx="195.00" cy="85.15" r="1.62"/><circle cx="199.83" cy="85.15" r="1.62"/><circle cx="204.66" cy="85.15" r="1.62"/><circle cx="209.49" cy="85.15" r="1.62"/><circle cx="214.32" cy="85.15" r="1.62"/><circle cx="219.15" cy="85.15" r="1.62"/><circle cx="223.98" cy="85.15" r="1.62"/><circle cx="228.81" cy="85.15" r="1.62"/><circle cx="233.64" cy="85.15" r="1.62"/><circle cx="238.47" cy="85.15" r="1.62"/><circle cx="243.30" cy="85.15" r="1.62"/><circle cx="248.13" cy="85.15" r="1.62"/><circle cx="252.96" cy="85.15" r="1.62"/><circle cx="257.79" cy="85.15" r="1.62"/><circle cx="262.62" cy="85.15" r="1.62"/><circle cx="267.45" cy="85.15" r="1.62"/><circle cx="272.28" cy="85.15" r="1.62"/><circle cx="277.11" cy="85.15" r="1.62"/><circle cx="281.94" cy="85.15" r="1.62"/><circle cx="158.77" cy="89.31" r="1.62"/><circle cx="163.60" cy="89.31" r="1.62"/><circle cx="168.43" cy="89.31" r="1.62"/><circle cx="173.26" cy="89.31" r="1.62"/><circle cx="178.09" cy="89.31" r="1.62"/><circle cx="182.92" cy="89.31" r="1.62"/><circle cx="187.75" cy="89.31" r="1.62"/><circle cx="192.58" cy="89.31" r="1.62"/><circle cx="197.41" cy="89.31" r="1.62"/><circle cx="202.24" cy="89.31" r="1.62"/><circle cx="207.07" cy="89.31" r="1.62"/><circle cx="211.90" cy="89.31" r="1.62"/><circle cx="216.73" cy="89.31" r="1.62"/><circle cx="221.56" cy="89.31" r="1.62"/><circle cx="226.39" cy="89.31" r="1.62"/><circle cx="231.22" cy="89.31" r="1.62"/><circle cx="236.05" cy="89.31" r="1.62"/><circle cx="240.88" cy="89.31" r="1.62"/><circle cx="245.71" cy="89.31" r="1.62"/><circle cx="250.54" cy="89.31" r="1.62"/><circle cx="255.37" cy="89.31" r="1.62"/><circle cx="260.20" cy="89.31" r="1.62"/><circle cx="265.03" cy="89.31" r="1.62"/><circle cx="269.86" cy="89.31" r="1.62"/><circle cx="274.69" cy="89.31" r="1.62"/><circle cx="279.52" cy="89.31" r="1.62"/><circle cx="161.19" cy="93.47" r="1.62"/><circle cx="166.02" cy="93.47" r="1.62"/><circle cx="170.85" cy="93.47" r="1.62"/><circle cx="175.68" cy="93.47" r="1.62"/><circle cx="180.51" cy="93.47" r="1.62"/><circle cx="185.34" cy="93.47" r="1.62"/><circle cx="190.17" cy="93.47" r="1.62"/><circle cx="195.00" cy="93.47" r="1.62"/><circle cx="199.83" cy="93.47" r="1.62"/><circle cx="204.66" cy="93.47" r="1.62"/><circle cx="209.49" cy="93.47" r="1.62"/><circle cx="214.32" cy="93.47" r="1.62"/><circle cx="219.15" cy="93.47" r="1.62"/><circle cx="223.98" cy="93.47" r="1.62"/><circle cx="228.81" cy="93.47" r="1.62"/><circle cx="233.64" cy="93.47" r="1.62"/><circle cx="238.47" cy="93.47" r="1.62"/><circle cx="243.30" cy="93.47" r="1.62"/><circle cx="248.13" cy="93.47" r="1.62"/><circle cx="252.96" cy="93.47" r="1.62"/><circle cx="257.79" cy="93.47" r="1.62"/><circle cx="262.62" cy="93.47" r="1.62"/><circle cx="267.45" cy="93.47" r="1.62"/><circle cx="272.28" cy="93.47" r="1.62"/><circle cx="277.11" cy="93.47" r="1.62"/><circle cx="281.94" cy="93.47" r="1.62"/><circle cx="158.77" cy="97.64" r="1.62"/><circle cx="163.60" cy="97.64" r="1.62"/><circle cx="168.43" cy="97.64" r="1.62"/><circle cx="173.26" cy="97.64" r="1.62"/><circle cx="178.09" cy="97.64" r="1.62"/><circle cx="182.92" cy="97.64" r="1.62"/><circle cx="187.75" cy="97.64" r="1.62"/><circle cx="192.58" cy="97.64" r="1.62"/><circle cx="197.41" cy="97.64" r="1.62"/><circle cx="202.24" cy="97.64" r="1.62"/><circle cx="207.07" cy="97.64" r="1.62"/><circle cx="211.90" cy="97.64" r="1.62"/><circle cx="216.73" cy="97.64" r="1.62"/><circle cx="221.56" cy="97.64" r="1.62"/><circle cx="226.39" cy="97.64" r="1.62"/><circle cx="231.22" cy="97.64" r="1.62"/><circle cx="236.05" cy="97.64" r="1.62"/><circle cx="240.88" cy="97.64" r="1.62"/><circle cx="245.71" cy="97.64" r="1.62"/><circle cx="250.54" cy="97.64" r="1.62"/><circle cx="255.37" cy="97.64" r="1.62"/><circle cx="260.20" cy="97.64" r="1.62"/><circle cx="265.03" cy="97.64" r="1.62"/><circle cx="269.86" cy="97.64" r="1.62"/><circle cx="274.69" cy="97.64" r="1.62"/><circle cx="279.52" cy="97.64" r="1.62"/><circle cx="161.19" cy="101.81" r="1.62"/><circle cx="166.02" cy="101.81" r="1.62"/><circle cx="170.85" cy="101.81" r="1.62"/><circle cx="175.68" cy="101.81" r="1.62"/><circle cx="180.51" cy="101.81" r="1.62"/><circle cx="185.34" cy="101.81" r="1.62"/><circle cx="190.17" cy="101.81" r="1.62"/><circle cx="195.00" cy="101.81" r="1.62"/><circle cx="199.83" cy="101.81" r="1.62"/><circle cx="204.66" cy="101.81" r="1.62"/><circle cx="209.49" cy="101.81" r="1.62"/><circle cx="214.32" cy="101.81" r="1.62"/><circle cx="219.15" cy="101.81" r="1.62"/><circle cx="223.98" cy="101.81" r="1.62"/><circle cx="228.81" cy="101.81" r="1.62"/><circle cx="233.64" cy="101.81" r="1.62"/><circle cx="238.47" cy="101.81" r="1.62"/><circle cx="243.30" cy="101.81" r="1.62"/><circle cx="248.13" cy="101.81" r="1.62"/><circle cx="252.96" cy="101.81" r="1.62"/><circle cx="257.79" cy="101.81" r="1.62"/><circle cx="262.62" cy="101.81" r="1.62"/><circle cx="267.45" cy="101.81" r="1.62"/><circle cx="272.28" cy="101.81" r="1.62"/><circle cx="277.11" cy="101.81" r="1.62"/><circle cx="281.94" cy="101.81" r="1.62"/><circle cx="158.77" cy="105.97" r="1.62"/><circle cx="163.60" cy="105.97" r="1.62"/><circle cx="168.43" cy="105.97" r="1.62"/><circle cx="173.26" cy="105.97" r="1.62"/><circle cx="178.09" cy="105.97" r="1.62"/><circle cx="182.92" cy="105.97" r="1.62"/><circle cx="187.75" cy="105.97" r="1.62"/><circle cx="192.58" cy="105.97" r="1.62"/><circle cx="197.41" cy="105.97" r="1.62"/><circle cx="202.24" cy="105.97" r="1.62"/><circle cx="207.07" cy="105.97" r="1.62"/><circle cx="211.90" cy="105.97" r="1.62"/><circle cx="216.73" cy="105.97" r="1.62"/><circle cx="221.56" cy="105.97" r="1.62"/><circle cx="226.39" cy="105.97" r="1.62"/><circle cx="231.22" cy="105.97" r="1.62"/><circle cx="236.05" cy="105.97" r="1.62"/><circle cx="240.88" cy="105.97" r="1.62"/><circle cx="245.71" cy="105.97" r="1.62"/><circle cx="250.54" cy="105.97" r="1.62"/><circle cx="255.37" cy="105.97" r="1.62"/><circle cx="260.20" cy="105.97" r="1.62"/><circle cx="265.03" cy="105.97" r="1.62"/><circle cx="269.86" cy="105.97" r="1.62"/><circle cx="274.69" cy="105.97" r="1.62"/><circle cx="279.52" cy="105.97" r="1.62"/><circle cx="161.19" cy="110.14" r="1.62"/><circle cx="166.02" cy="110.14" r="1.62"/><circle cx="170.85" cy="110.14" r="1.62"/><circle cx="175.68" cy="110.14" r="1.62"/><circle cx="180.51" cy="110.14" r="1.62"/><circle cx="185.34" cy="110.14" r="1.62"/><circle cx="190.17" cy="110.14" r="1.62"/><circle cx="195.00" cy="110.14" r="1.62"/><circle cx="199.83" cy="110.14" r="1.62"/><circle cx="204.66" cy="110.14" r="1.62"/><circle cx="209.49" cy="110.14" r="1.62"/><circle cx="214.32" cy="110.14" r="1.62"/><circle cx="219.15" cy="110.14" r="1.62"/><circle cx="223.98" cy="110.14" r="1.62"/><circle cx="228.81" cy="110.14" r="1.62"/><circle cx="233.64" cy="110.14" r="1.62"/><circle cx="238.47" cy="110.14" r="1.62"/><circle cx="243.30" cy="110.14" r="1.62"/><circle cx="248.13" cy="110.14" r="1.62"/><circle cx="252.96" cy="110.14" r="1.62"/><circle cx="257.79" cy="110.14" r="1.62"/><circle cx="262.62" cy="110.14" r="1.62"/><circle cx="267.45" cy="110.14" r="1.62"/><circle cx="272.28" cy="110.14" r="1.62"/><circle cx="277.11" cy="110.14" r="1.62"/><circle cx="281.94" cy="110.14" r="1.62"/><circle cx="158.77" cy="114.30" r="1.62"/><circle cx="163.60" cy="114.30" r="1.62"/><circle cx="168.43" cy="114.30" r="1.62"/><circle cx="173.26" cy="114.30" r="1.62"/><circle cx="178.09" cy="114.30" r="1.62"/><circle cx="182.92" cy="114.30" r="1.62"/><circle cx="187.75" cy="114.30" r="1.62"/><circle cx="192.58" cy="114.30" r="1.62"/><circle cx="197.41" cy="114.30" r="1.62"/><circle cx="202.24" cy="114.30" r="1.62"/><circle cx="207.07" cy="114.30" r="1.62"/><circle cx="211.90" cy="114.30" r="1.62"/><circle cx="216.73" cy="114.30" r="1.62"/><circle cx="221.56" cy="114.30" r="1.62"/><circle cx="226.39" cy="114.30" r="1.62"/><circle cx="231.22" cy="114.30" r="1.62"/><circle cx="236.05" cy="114.30" r="1.62"/><circle cx="240.88" cy="114.30" r="1.62"/><circle cx="245.71" cy="114.30" r="1.62"/><circle cx="250.54" cy="114.30" r="1.62"/><circle cx="255.37" cy="114.30" r="1.62"/><circle cx="260.20" cy="114.30" r="1.62"/><circle cx="265.03" cy="114.30" r="1.62"/><circle cx="269.86" cy="114.30" r="1.62"/><circle cx="274.69" cy="114.30" r="1.62"/><circle cx="279.52" cy="114.30" r="1.62"/></g>
</g>
<g clip-path="url(#c3)">
<rect x="280" y="24.5" width="118.5" height="97" fill="#f2e8ea"/>
<rect x="280" y="24.5" width="118.5" height="4.6" fill="#d8d6d8"/>
<rect x="280" y="116" width="118.5" height="5.5" fill="#d8d6d8"/>
<rect x="280" y="70.3" width="118.5" height="4.3" fill="#dadada"/>
<g fill="#080000" stroke="#902020" stroke-width="0.5"><circle cx="279.17" cy="31.00" r="1.55"/><circle cx="284.00" cy="31.00" r="1.55"/><circle cx="288.83" cy="31.00" r="1.55"/><circle cx="293.66" cy="31.00" r="1.55"/><circle cx="298.49" cy="31.00" r="1.55"/><circle cx="303.32" cy="31.00" r="1.55"/><circle cx="308.15" cy="31.00" r="1.55"/><circle cx="312.98" cy="31.00" r="1.55"/><circle cx="317.81" cy="31.00" r="1.55"/><circle cx="322.64" cy="31.00" r="1.55"/><circle cx="327.47" cy="31.00" r="1.55"/><circle cx="332.30" cy="31.00" r="1.55"/><circle cx="337.13" cy="31.00" r="1.55"/><circle cx="341.96" cy="31.00" r="1.55"/><circle cx="346.79" cy="31.00" r="1.55"/><circle cx="351.62" cy="31.00" r="1.55"/><circle cx="356.45" cy="31.00" r="1.55"/><circle cx="361.28" cy="31.00" r="1.55"/><circle cx="366.11" cy="31.00" r="1.55"/><circle cx="370.94" cy="31.00" r="1.55"/><circle cx="375.77" cy="31.00" r="1.55"/><circle cx="380.60" cy="31.00" r="1.55"/><circle cx="385.43" cy="31.00" r="1.55"/><circle cx="390.26" cy="31.00" r="1.55"/><circle cx="395.09" cy="31.00" r="1.55"/><circle cx="399.92" cy="31.00" r="1.55"/><circle cx="281.58" cy="35.16" r="1.55"/><circle cx="286.41" cy="35.16" r="1.55"/><circle cx="291.24" cy="35.16" r="1.55"/><circle cx="296.07" cy="35.16" r="1.55"/><circle cx="300.90" cy="35.16" r="1.55"/><circle cx="305.73" cy="35.16" r="1.55"/><circle cx="310.56" cy="35.16" r="1.55"/><circle cx="315.39" cy="35.16" r="1.55"/><circle cx="320.22" cy="35.16" r="1.55"/><circle cx="325.05" cy="35.16" r="1.55"/><circle cx="329.88" cy="35.16" r="1.55"/><circle cx="334.71" cy="35.16" r="1.55"/><circle cx="339.54" cy="35.16" r="1.55"/><circle cx="344.37" cy="35.16" r="1.55"/><circle cx="349.20" cy="35.16" r="1.55"/><circle cx="354.03" cy="35.16" r="1.55"/><circle cx="358.86" cy="35.16" r="1.55"/><circle cx="363.69" cy="35.16" r="1.55"/><circle cx="368.52" cy="35.16" r="1.55"/><circle cx="373.35" cy="35.16" r="1.55"/><circle cx="378.18" cy="35.16" r="1.55"/><circle cx="383.01" cy="35.16" r="1.55"/><circle cx="387.84" cy="35.16" r="1.55"/><circle cx="392.67" cy="35.16" r="1.55"/><circle cx="397.50" cy="35.16" r="1.55"/><circle cx="279.17" cy="39.33" r="1.55"/><circle cx="284.00" cy="39.33" r="1.55"/><circle cx="288.83" cy="39.33" r="1.55"/><circle cx="293.66" cy="39.33" r="1.55"/><circle cx="298.49" cy="39.33" r="1.55"/><circle cx="303.32" cy="39.33" r="1.55"/><circle cx="308.15" cy="39.33" r="1.55"/><circle cx="312.98" cy="39.33" r="1.55"/><circle cx="317.81" cy="39.33" r="1.55"/><circle cx="322.64" cy="39.33" r="1.55"/><circle cx="327.47" cy="39.33" r="1.55"/><circle cx="332.30" cy="39.33" r="1.55"/><circle cx="337.13" cy="39.33" r="1.55"/><circle cx="341.96" cy="39.33" r="1.55"/><circle cx="346.79" cy="39.33" r="1.55"/><circle cx="351.62" cy="39.33" r="1.55"/><circle cx="356.45" cy="39.33" r="1.55"/><circle cx="361.28" cy="39.33" r="1.55"/><circle cx="366.11" cy="39.33" r="1.55"/><circle cx="370.94" cy="39.33" r="1.55"/><circle cx="375.77" cy="39.33" r="1.55"/><circle cx="380.60" cy="39.33" r="1.55"/><circle cx="385.43" cy="39.33" r="1.55"/><circle cx="390.26" cy="39.33" r="1.55"/><circle cx="395.09" cy="39.33" r="1.55"/><circle cx="399.92" cy="39.33" r="1.55"/><circle cx="281.58" cy="43.50" r="1.55"/><circle cx="286.41" cy="43.50" r="1.55"/><circle cx="291.24" cy="43.50" r="1.55"/><circle cx="296.07" cy="43.50" r="1.55"/><circle cx="300.90" cy="43.50" r="1.55"/><circle cx="305.73" cy="43.50" r="1.55"/><circle cx="310.56" cy="43.50" r="1.55"/><circle cx="315.39" cy="43.50" r="1.55"/><circle cx="320.22" cy="43.50" r="1.55"/><circle cx="325.05" cy="43.50" r="1.55"/><circle cx="329.88" cy="43.50" r="1.55"/><circle cx="334.71" cy="43.50" r="1.55"/><circle cx="339.54" cy="43.50" r="1.55"/><circle cx="344.37" cy="43.50" r="1.55"/><circle cx="349.20" cy="43.50" r="1.55"/><circle cx="354.03" cy="43.50" r="1.55"/><circle cx="358.86" cy="43.50" r="1.55"/><circle cx="363.69" cy="43.50" r="1.55"/><circle cx="368.52" cy="43.50" r="1.55"/><circle cx="373.35" cy="43.50" r="1.55"/><circle cx="378.18" cy="43.50" r="1.55"/><circle cx="383.01" cy="43.50" r="1.55"/><circle cx="387.84" cy="43.50" r="1.55"/><circle cx="392.67" cy="43.50" r="1.55"/><circle cx="397.50" cy="43.50" r="1.55"/><circle cx="279.17" cy="47.66" r="1.55"/><circle cx="284.00" cy="47.66" r="1.55"/><circle cx="288.83" cy="47.66" r="1.55"/><circle cx="293.66" cy="47.66" r="1.55"/><circle cx="298.49" cy="47.66" r="1.55"/><circle cx="303.32" cy="47.66" r="1.55"/><circle cx="308.15" cy="47.66" r="1.55"/><circle cx="312.98" cy="47.66" r="1.55"/><circle cx="317.81" cy="47.66" r="1.55"/><circle cx="322.64" cy="47.66" r="1.55"/><circle cx="327.47" cy="47.66" r="1.55"/><circle cx="332.30" cy="47.66" r="1.55"/><circle cx="337.13" cy="47.66" r="1.55"/><circle cx="341.96" cy="47.66" r="1.55"/><circle cx="346.79" cy="47.66" r="1.55"/><circle cx="351.62" cy="47.66" r="1.55"/><circle cx="356.45" cy="47.66" r="1.55"/><circle cx="361.28" cy="47.66" r="1.55"/><circle cx="366.11" cy="47.66" r="1.55"/><circle cx="370.94" cy="47.66" r="1.55"/><circle cx="375.77" cy="47.66" r="1.55"/><circle cx="380.60" cy="47.66" r="1.55"/><circle cx="385.43" cy="47.66" r="1.55"/><circle cx="390.26" cy="47.66" r="1.55"/><circle cx="395.09" cy="47.66" r="1.55"/><circle cx="399.92" cy="47.66" r="1.55"/><circle cx="281.58" cy="51.83" r="1.55"/><circle cx="286.41" cy="51.83" r="1.55"/><circle cx="291.24" cy="51.83" r="1.55"/><circle cx="296.07" cy="51.83" r="1.55"/><circle cx="300.90" cy="51.83" r="1.55"/><circle cx="305.73" cy="51.83" r="1.55"/><circle cx="310.56" cy="51.83" r="1.55"/><circle cx="315.39" cy="51.83" r="1.55"/><circle cx="320.22" cy="51.83" r="1.55"/><circle cx="325.05" cy="51.83" r="1.55"/><circle cx="329.88" cy="51.83" r="1.55"/><circle cx="334.71" cy="51.83" r="1.55"/><circle cx="339.54" cy="51.83" r="1.55"/><circle cx="344.37" cy="51.83" r="1.55"/><circle cx="349.20" cy="51.83" r="1.55"/><circle cx="354.03" cy="51.83" r="1.55"/><circle cx="358.86" cy="51.83" r="1.55"/><circle cx="363.69" cy="51.83" r="1.55"/><circle cx="368.52" cy="51.83" r="1.55"/><circle cx="373.35" cy="51.83" r="1.55"/><circle cx="378.18" cy="51.83" r="1.55"/><circle cx="383.01" cy="51.83" r="1.55"/><circle cx="387.84" cy="51.83" r="1.55"/><circle cx="392.67" cy="51.83" r="1.55"/><circle cx="397.50" cy="51.83" r="1.55"/><circle cx="279.17" cy="55.99" r="1.55"/><circle cx="284.00" cy="55.99" r="1.55"/><circle cx="288.83" cy="55.99" r="1.55"/><circle cx="293.66" cy="55.99" r="1.55"/><circle cx="298.49" cy="55.99" r="1.55"/><circle cx="303.32" cy="55.99" r="1.55"/><circle cx="308.15" cy="55.99" r="1.55"/><circle cx="312.98" cy="55.99" r="1.55"/><circle cx="317.81" cy="55.99" r="1.55"/><circle cx="322.64" cy="55.99" r="1.55"/><circle cx="327.47" cy="55.99" r="1.55"/><circle cx="332.30" cy="55.99" r="1.55"/><circle cx="337.13" cy="55.99" r="1.55"/><circle cx="341.96" cy="55.99" r="1.55"/><circle cx="346.79" cy="55.99" r="1.55"/><circle cx="351.62" cy="55.99" r="1.55"/><circle cx="356.45" cy="55.99" r="1.55"/><circle cx="361.28" cy="55.99" r="1.55"/><circle cx="366.11" cy="55.99" r="1.55"/><circle cx="370.94" cy="55.99" r="1.55"/><circle cx="375.77" cy="55.99" r="1.55"/><circle cx="380.60" cy="55.99" r="1.55"/><circle cx="385.43" cy="55.99" r="1.55"/><circle cx="390.26" cy="55.99" r="1.55"/><circle cx="395.09" cy="55.99" r="1.55"/><circle cx="399.92" cy="55.99" r="1.55"/><circle cx="281.58" cy="60.16" r="1.8" fill="#f4000c" stroke="#d00010"/><circle cx="286.41" cy="60.16" r="1.8" fill="#f4000c" stroke="#d00010"/><circle cx="291.24" cy="60.16" r="1.8" fill="#f4000c" stroke="#d00010"/><circle cx="296.07" cy="60.16" r="1.8" fill="#f4000c" stroke="#d00010"/><circle cx="300.90" cy="60.16" r="1.8" fill="#f4000c" stroke="#d00010"/><circle cx="305.73" cy="60.16" r="1.8" fill="#f4000c" stroke="#d00010"/><circle cx="310.56" cy="60.16" r="1.8" fill="#f4000c" stroke="#d00010"/><circle cx="315.39" cy="60.16" r="1.8" fill="#f4000c" stroke="#d00010"/><circle cx="320.22" cy="60.16" r="1.8" fill="#f4000c" stroke="#d00010"/><circle cx="325.05" cy="60.16" r="1.8" fill="#f4000c" stroke="#d00010"/><circle cx="329.88" cy="60.16" r="1.8" fill="#f4000c" stroke="#d00010"/><circle cx="334.71" cy="60.16" r="1.8" fill="#f4000c" stroke="#d00010"/><circle cx="339.54" cy="60.16" r="1.8" fill="#f4000c" stroke="#d00010"/><circle cx="344.37" cy="60.16" r="1.8" fill="#f4000c" stroke="#d00010"/><circle cx="349.20" cy="60.16" r="1.8" fill="#f4000c" stroke="#d00010"/><circle cx="354.03" cy="60.16" r="1.8" fill="#f4000c" stroke="#d00010"/><circle cx="358.86" cy="60.16" r="1.8" fill="#f4000c" stroke="#d00010"/><circle cx="363.69" cy="60.16" r="1.8" fill="#f4000c" stroke="#d00010"/><circle cx="368.52" cy="60.16" r="1.8" fill="#f4000c" stroke="#d00010"/><circle cx="373.35" cy="60.16" r="1.8" fill="#f4000c" stroke="#d00010"/><circle cx="378.18" cy="60.16" r="1.8" fill="#f4000c" stroke="#d00010"/><circle cx="383.01" cy="60.16" r="1.8" fill="#f4000c" stroke="#d00010"/><circle cx="387.84" cy="60.16" r="1.8" fill="#f4000c" stroke="#d00010"/><circle cx="392.67" cy="60.16" r="1.8" fill="#f4000c" stroke="#d00010"/><circle cx="397.50" cy="60.16" r="1.8" fill="#f4000c" stroke="#d00010"/><circle cx="279.17" cy="64.32" r="1.22" fill="#1010e8" stroke="#2020a0"/><circle cx="284.00" cy="64.32" r="1.22" fill="#1010e8" stroke="#2020a0"/><circle cx="288.83" cy="64.32" r="1.22" fill="#1010e8" stroke="#2020a0"/><circle cx="293.66" cy="64.32" r="1.22" fill="#1010e8" stroke="#2020a0"/><circle cx="298.49" cy="64.32" r="1.22" fill="#1010e8" stroke="#2020a0"/><circle cx="303.32" cy="64.32" r="1.22" fill="#1010e8" stroke="#2020a0"/><circle cx="308.15" cy="64.32" r="1.22" fill="#1010e8" stroke="#2020a0"/><circle cx="312.98" cy="64.32" r="1.22" fill="#1010e8" stroke="#2020a0"/><circle cx="317.81" cy="64.32" r="1.22" fill="#1010e8" stroke="#2020a0"/><circle cx="322.64" cy="64.32" r="1.22" fill="#1010e8" stroke="#2020a0"/><circle cx="327.47" cy="64.32" r="1.22" fill="#1010e8" stroke="#2020a0"/><circle cx="332.30" cy="64.32" r="1.22" fill="#1010e8" stroke="#2020a0"/><circle cx="337.13" cy="64.32" r="1.22" fill="#1010e8" stroke="#2020a0"/><circle cx="341.96" cy="64.32" r="1.22" fill="#1010e8" stroke="#2020a0"/><circle cx="346.79" cy="64.32" r="1.22" fill="#1010e8" stroke="#2020a0"/><circle cx="351.62" cy="64.32" r="1.22" fill="#1010e8" stroke="#2020a0"/><circle cx="356.45" cy="64.32" r="1.22" fill="#1010e8" stroke="#2020a0"/><circle cx="361.28" cy="64.32" r="1.22" fill="#1010e8" stroke="#2020a0"/><circle cx="366.11" cy="64.32" r="1.22" fill="#1010e8" stroke="#2020a0"/><circle cx="370.94" cy="64.32" r="1.22" fill="#1010e8" stroke="#2020a0"/><circle cx="375.77" cy="64.32" r="1.22" fill="#1010e8" stroke="#2020a0"/><circle cx="380.60" cy="64.32" r="1.22" fill="#1010e8" stroke="#2020a0"/><circle cx="385.43" cy="64.32" r="1.22" fill="#1010e8" stroke="#2020a0"/><circle cx="390.26" cy="64.32" r="1.22" fill="#1010e8" stroke="#2020a0"/><circle cx="395.09" cy="64.32" r="1.22" fill="#1010e8" stroke="#2020a0"/><circle cx="399.92" cy="64.32" r="1.22" fill="#1010e8" stroke="#2020a0"/><circle cx="281.58" cy="68.48" r="1.55"/><circle cx="286.41" cy="68.48" r="1.55"/><circle cx="291.24" cy="68.48" r="1.55"/><circle cx="296.07" cy="68.48" r="1.55"/><circle cx="300.90" cy="68.48" r="1.55"/><circle cx="305.73" cy="68.48" r="1.55"/><circle cx="310.56" cy="68.48" r="1.55"/><circle cx="315.39" cy="68.48" r="1.55"/><circle cx="320.22" cy="68.48" r="1.55"/><circle cx="325.05" cy="68.48" r="1.55"/><circle cx="329.88" cy="68.48" r="1.55"/><circle cx="334.71" cy="68.48" r="1.55"/><circle cx="339.54" cy="68.48" r="1.55"/><circle cx="344.37" cy="68.48" r="1.55"/><circle cx="349.20" cy="68.48" r="1.55"/><circle cx="354.03" cy="68.48" r="1.55"/><circle cx="358.86" cy="68.48" r="1.55"/><circle cx="363.69" cy="68.48" r="1.55"/><circle cx="368.52" cy="68.48" r="1.55"/><circle cx="373.35" cy="68.48" r="1.55"/><circle cx="378.18" cy="68.48" r="1.55"/><circle cx="383.01" cy="68.48" r="1.55"/><circle cx="387.84" cy="68.48" r="1.55"/><circle cx="392.67" cy="68.48" r="1.55"/><circle cx="397.50" cy="68.48" r="1.55"/><circle cx="281.58" cy="76.81" r="1.55"/><circle cx="286.41" cy="76.81" r="1.55"/><circle cx="291.24" cy="76.81" r="1.55"/><circle cx="296.07" cy="76.81" r="1.55"/><circle cx="300.90" cy="76.81" r="1.55"/><circle cx="305.73" cy="76.81" r="1.55"/><circle cx="310.56" cy="76.81" r="1.55"/><circle cx="315.39" cy="76.81" r="1.55"/><circle cx="320.22" cy="76.81" r="1.55"/><circle cx="325.05" cy="76.81" r="1.55"/><circle cx="329.88" cy="76.81" r="1.55"/><circle cx="334.71" cy="76.81" r="1.55"/><circle cx="339.54" cy="76.81" r="1.55"/><circle cx="344.37" cy="76.81" r="1.55"/><circle cx="349.20" cy="76.81" r="1.55"/><circle cx="354.03" cy="76.81" r="1.55"/><circle cx="358.86" cy="76.81" r="1.55"/><circle cx="363.69" cy="76.81" r="1.55"/><circle cx="368.52" cy="76.81" r="1.55"/><circle cx="373.35" cy="76.81" r="1.55"/><circle cx="378.18" cy="76.81" r="1.55"/><circle cx="383.01" cy="76.81" r="1.55"/><circle cx="387.84" cy="76.81" r="1.55"/><circle cx="392.67" cy="76.81" r="1.55"/><circle cx="397.50" cy="76.81" r="1.55"/><circle cx="279.17" cy="80.98" r="1.22" fill="#1010e8" stroke="#2020a0"/><circle cx="284.00" cy="80.98" r="1.22" fill="#1010e8" stroke="#2020a0"/><circle cx="288.83" cy="80.98" r="1.22" fill="#1010e8" stroke="#2020a0"/><circle cx="293.66" cy="80.98" r="1.22" fill="#1010e8" stroke="#2020a0"/><circle cx="298.49" cy="80.98" r="1.22" fill="#1010e8" stroke="#2020a0"/><circle cx="303.32" cy="80.98" r="1.22" fill="#1010e8" stroke="#2020a0"/><circle cx="308.15" cy="80.98" r="1.22" fill="#1010e8" stroke="#2020a0"/><circle cx="312.98" cy="80.98" r="1.22" fill="#1010e8" stroke="#2020a0"/><circle cx="317.81" cy="80.98" r="1.22" fill="#1010e8" stroke="#2020a0"/><circle cx="322.64" cy="80.98" r="1.22" fill="#1010e8" stroke="#2020a0"/><circle cx="327.47" cy="80.98" r="1.22" fill="#1010e8" stroke="#2020a0"/><circle cx="332.30" cy="80.98" r="1.22" fill="#1010e8" stroke="#2020a0"/><circle cx="337.13" cy="80.98" r="1.22" fill="#1010e8" stroke="#2020a0"/><circle cx="341.96" cy="80.98" r="1.22" fill="#1010e8" stroke="#2020a0"/><circle cx="346.79" cy="80.98" r="1.22" fill="#1010e8" stroke="#2020a0"/><circle cx="351.62" cy="80.98" r="1.22" fill="#1010e8" stroke="#2020a0"/><circle cx="356.45" cy="80.98" r="1.22" fill="#1010e8" stroke="#2020a0"/><circle cx="361.28" cy="80.98" r="1.22" fill="#1010e8" stroke="#2020a0"/><circle cx="366.11" cy="80.98" r="1.22" fill="#1010e8" stroke="#2020a0"/><circle cx="370.94" cy="80.98" r="1.22" fill="#1010e8" stroke="#2020a0"/><circle cx="375.77" cy="80.98" r="1.22" fill="#1010e8" stroke="#2020a0"/><circle cx="380.60" cy="80.98" r="1.22" fill="#1010e8" stroke="#2020a0"/><circle cx="385.43" cy="80.98" r="1.22" fill="#1010e8" stroke="#2020a0"/><circle cx="390.26" cy="80.98" r="1.22" fill="#1010e8" stroke="#2020a0"/><circle cx="395.09" cy="80.98" r="1.22" fill="#1010e8" stroke="#2020a0"/><circle cx="399.92" cy="80.98" r="1.22" fill="#1010e8" stroke="#2020a0"/><circle cx="281.58" cy="85.15" r="1.8" fill="#f4000c" stroke="#d00010"/><circle cx="286.41" cy="85.15" r="1.8" fill="#f4000c" stroke="#d00010"/><circle cx="291.24" cy="85.15" r="1.8" fill="#f4000c" stroke="#d00010"/><circle cx="296.07" cy="85.15" r="1.8" fill="#f4000c" stroke="#d00010"/><circle cx="300.90" cy="85.15" r="1.8" fill="#f4000c" stroke="#d00010"/><circle cx="305.73" cy="85.15" r="1.8" fill="#f4000c" stroke="#d00010"/><circle cx="310.56" cy="85.15" r="1.8" fill="#f4000c" stroke="#d00010"/><circle cx="315.39" cy="85.15" r="1.8" fill="#f4000c" stroke="#d00010"/><circle cx="320.22" cy="85.15" r="1.8" fill="#f4000c" stroke="#d00010"/><circle cx="325.05" cy="85.15" r="1.8" fill="#f4000c" stroke="#d00010"/><circle cx="329.88" cy="85.15" r="1.8" fill="#f4000c" stroke="#d00010"/><circle cx="334.71" cy="85.15" r="1.8" fill="#f4000c" stroke="#d00010"/><circle cx="339.54" cy="85.15" r="1.8" fill="#f4000c" stroke="#d00010"/><circle cx="344.37" cy="85.15" r="1.8" fill="#f4000c" stroke="#d00010"/><circle cx="349.20" cy="85.15" r="1.8" fill="#f4000c" stroke="#d00010"/><circle cx="354.03" cy="85.15" r="1.8" fill="#f4000c" stroke="#d00010"/><circle cx="358.86" cy="85.15" r="1.8" fill="#f4000c" stroke="#d00010"/><circle cx="363.69" cy="85.15" r="1.8" fill="#f4000c" stroke="#d00010"/><circle cx="368.52" cy="85.15" r="1.8" fill="#f4000c" stroke="#d00010"/><circle cx="373.35" cy="85.15" r="1.8" fill="#f4000c" stroke="#d00010"/><circle cx="378.18" cy="85.15" r="1.8" fill="#f4000c" stroke="#d00010"/><circle cx="383.01" cy="85.15" r="1.8" fill="#f4000c" stroke="#d00010"/><circle cx="387.84" cy="85.15" r="1.8" fill="#f4000c" stroke="#d00010"/><circle cx="392.67" cy="85.15" r="1.8" fill="#f4000c" stroke="#d00010"/><circle cx="397.50" cy="85.15" r="1.8" fill="#f4000c" stroke="#d00010"/><circle cx="279.17" cy="89.31" r="1.55"/><circle cx="284.00" cy="89.31" r="1.55"/><circle cx="288.83" cy="89.31" r="1.55"/><circle cx="293.66" cy="89.31" r="1.55"/><circle cx="298.49" cy="89.31" r="1.55"/><circle cx="303.32" cy="89.31" r="1.55"/><circle cx="308.15" cy="89.31" r="1.55"/><circle cx="312.98" cy="89.31" r="1.55"/><circle cx="317.81" cy="89.31" r="1.55"/><circle cx="322.64" cy="89.31" r="1.55"/><circle cx="327.47" cy="89.31" r="1.55"/><circle cx="332.30" cy="89.31" r="1.55"/><circle cx="337.13" cy="89.31" r="1.55"/><circle cx="341.96" cy="89.31" r="1.55"/><circle cx="346.79" cy="89.31" r="1.55"/><circle cx="351.62" cy="89.31" r="1.55"/><circle cx="356.45" cy="89.31" r="1.55"/><circle cx="361.28" cy="89.31" r="1.55"/><circle cx="366.11" cy="89.31" r="1.55"/><circle cx="370.94" cy="89.31" r="1.55"/><circle cx="375.77" cy="89.31" r="1.55"/><circle cx="380.60" cy="89.31" r="1.55"/><circle cx="385.43" cy="89.31" r="1.55"/><circle cx="390.26" cy="89.31" r="1.55"/><circle cx="395.09" cy="89.31" r="1.55"/><circle cx="399.92" cy="89.31" r="1.55"/><circle cx="281.58" cy="93.47" r="1.55"/><circle cx="286.41" cy="93.47" r="1.55"/><circle cx="291.24" cy="93.47" r="1.55"/><circle cx="296.07" cy="93.47" r="1.55"/><circle cx="300.90" cy="93.47" r="1.55"/><circle cx="305.73" cy="93.47" r="1.55"/><circle cx="310.56" cy="93.47" r="1.55"/><circle cx="315.39" cy="93.47" r="1.55"/><circle cx="320.22" cy="93.47" r="1.55"/><circle cx="325.05" cy="93.47" r="1.55"/><circle cx="329.88" cy="93.47" r="1.55"/><circle cx="334.71" cy="93.47" r="1.55"/><circle cx="339.54" cy="93.47" r="1.55"/><circle cx="344.37" cy="93.47" r="1.55"/><circle cx="349.20" cy="93.47" r="1.55"/><circle cx="354.03" cy="93.47" r="1.55"/><circle cx="358.86" cy="93.47" r="1.55"/><circle cx="363.69" cy="93.47" r="1.55"/><circle cx="368.52" cy="93.47" r="1.55"/><circle cx="373.35" cy="93.47" r="1.55"/><circle cx="378.18" cy="93.47" r="1.55"/><circle cx="383.01" cy="93.47" r="1.55"/><circle cx="387.84" cy="93.47" r="1.55"/><circle cx="392.67" cy="93.47" r="1.55"/><circle cx="397.50" cy="93.47" r="1.55"/><circle cx="279.17" cy="97.64" r="1.55"/><circle cx="284.00" cy="97.64" r="1.55"/><circle cx="288.83" cy="97.64" r="1.55"/><circle cx="293.66" cy="97.64" r="1.55"/><circle cx="298.49" cy="97.64" r="1.55"/><circle cx="303.32" cy="97.64" r="1.55"/><circle cx="308.15" cy="97.64" r="1.55"/><circle cx="312.98" cy="97.64" r="1.55"/><circle cx="317.81" cy="97.64" r="1.55"/><circle cx="322.64" cy="97.64" r="1.55"/><circle cx="327.47" cy="97.64" r="1.55"/><circle cx="332.30" cy="97.64" r="1.55"/><circle cx="337.13" cy="97.64" r="1.55"/><circle cx="341.96" cy="97.64" r="1.55"/><circle cx="346.79" cy="97.64" r="1.55"/><circle cx="351.62" cy="97.64" r="1.55"/><circle cx="356.45" cy="97.64" r="1.55"/><circle cx="361.28" cy="97.64" r="1.55"/><circle cx="366.11" cy="97.64" r="1.55"/><circle cx="370.94" cy="97.64" r="1.55"/><circle cx="375.77" cy="97.64" r="1.55"/><circle cx="380.60" cy="97.64" r="1.55"/><circle cx="385.43" cy="97.64" r="1.55"/><circle cx="390.26" cy="97.64" r="1.55"/><circle cx="395.09" cy="97.64" r="1.55"/><circle cx="399.92" cy="97.64" r="1.55"/><circle cx="281.58" cy="101.81" r="1.55"/><circle cx="286.41" cy="101.81" r="1.55"/><circle cx="291.24" cy="101.81" r="1.55"/><circle cx="296.07" cy="101.81" r="1.55"/><circle cx="300.90" cy="101.81" r="1.55"/><circle cx="305.73" cy="101.81" r="1.55"/><circle cx="310.56" cy="101.81" r="1.55"/><circle cx="315.39" cy="101.81" r="1.55"/><circle cx="320.22" cy="101.81" r="1.55"/><circle cx="325.05" cy="101.81" r="1.55"/><circle cx="329.88" cy="101.81" r="1.55"/><circle cx="334.71" cy="101.81" r="1.55"/><circle cx="339.54" cy="101.81" r="1.55"/><circle cx="344.37" cy="101.81" r="1.55"/><circle cx="349.20" cy="101.81" r="1.55"/><circle cx="354.03" cy="101.81" r="1.55"/><circle cx="358.86" cy="101.81" r="1.55"/><circle cx="363.69" cy="101.81" r="1.55"/><circle cx="368.52" cy="101.81" r="1.55"/><circle cx="373.35" cy="101.81" r="1.55"/><circle cx="378.18" cy="101.81" r="1.55"/><circle cx="383.01" cy="101.81" r="1.55"/><circle cx="387.84" cy="101.81" r="1.55"/><circle cx="392.67" cy="101.81" r="1.55"/><circle cx="397.50" cy="101.81" r="1.55"/><circle cx="279.17" cy="105.97" r="1.55"/><circle cx="284.00" cy="105.97" r="1.55"/><circle cx="288.83" cy="105.97" r="1.55"/><circle cx="293.66" cy="105.97" r="1.55"/><circle cx="298.49" cy="105.97" r="1.55"/><circle cx="303.32" cy="105.97" r="1.55"/><circle cx="308.15" cy="105.97" r="1.55"/><circle cx="312.98" cy="105.97" r="1.55"/><circle cx="317.81" cy="105.97" r="1.55"/><circle cx="322.64" cy="105.97" r="1.55"/><circle cx="327.47" cy="105.97" r="1.55"/><circle cx="332.30" cy="105.97" r="1.55"/><circle cx="337.13" cy="105.97" r="1.55"/><circle cx="341.96" cy="105.97" r="1.55"/><circle cx="346.79" cy="105.97" r="1.55"/><circle cx="351.62" cy="105.97" r="1.55"/><circle cx="356.45" cy="105.97" r="1.55"/><circle cx="361.28" cy="105.97" r="1.55"/><circle cx="366.11" cy="105.97" r="1.55"/><circle cx="370.94" cy="105.97" r="1.55"/><circle cx="375.77" cy="105.97" r="1.55"/><circle cx="380.60" cy="105.97" r="1.55"/><circle cx="385.43" cy="105.97" r="1.55"/><circle cx="390.26" cy="105.97" r="1.55"/><circle cx="395.09" cy="105.97" r="1.55"/><circle cx="399.92" cy="105.97" r="1.55"/><circle cx="281.58" cy="110.14" r="1.55"/><circle cx="286.41" cy="110.14" r="1.55"/><circle cx="291.24" cy="110.14" r="1.55"/><circle cx="296.07" cy="110.14" r="1.55"/><circle cx="300.90" cy="110.14" r="1.55"/><circle cx="305.73" cy="110.14" r="1.55"/><circle cx="310.56" cy="110.14" r="1.55"/><circle cx="315.39" cy="110.14" r="1.55"/><circle cx="320.22" cy="110.14" r="1.55"/><circle cx="325.05" cy="110.14" r="1.55"/><circle cx="329.88" cy="110.14" r="1.55"/><circle cx="334.71" cy="110.14" r="1.55"/><circle cx="339.54" cy="110.14" r="1.55"/><circle cx="344.37" cy="110.14" r="1.55"/><circle cx="349.20" cy="110.14" r="1.55"/><circle cx="354.03" cy="110.14" r="1.55"/><circle cx="358.86" cy="110.14" r="1.55"/><circle cx="363.69" cy="110.14" r="1.55"/><circle cx="368.52" cy="110.14" r="1.55"/><circle cx="373.35" cy="110.14" r="1.55"/><circle cx="378.18" cy="110.14" r="1.55"/><circle cx="383.01" cy="110.14" r="1.55"/><circle cx="387.84" cy="110.14" r="1.55"/><circle cx="392.67" cy="110.14" r="1.55"/><circle cx="397.50" cy="110.14" r="1.55"/><circle cx="279.17" cy="114.30" r="1.55"/><circle cx="284.00" cy="114.30" r="1.55"/><circle cx="288.83" cy="114.30" r="1.55"/><circle cx="293.66" cy="114.30" r="1.55"/><circle cx="298.49" cy="114.30" r="1.55"/><circle cx="303.32" cy="114.30" r="1.55"/><circle cx="308.15" cy="114.30" r="1.55"/><circle cx="312.98" cy="114.30" r="1.55"/><circle cx="317.81" cy="114.30" r="1.55"/><circle cx="322.64" cy="114.30" r="1.55"/><circle cx="327.47" cy="114.30" r="1.55"/><circle cx="332.30" cy="114.30" r="1.55"/><circle cx="337.13" cy="114.30" r="1.55"/><circle cx="341.96" cy="114.30" r="1.55"/><circle cx="346.79" cy="114.30" r="1.55"/><circle cx="351.62" cy="114.30" r="1.55"/><circle cx="356.45" cy="114.30" r="1.55"/><circle cx="361.28" cy="114.30" r="1.55"/><circle cx="366.11" cy="114.30" r="1.55"/><circle cx="370.94" cy="114.30" r="1.55"/><circle cx="375.77" cy="114.30" r="1.55"/><circle cx="380.60" cy="114.30" r="1.55"/><circle cx="385.43" cy="114.30" r="1.55"/><circle cx="390.26" cy="114.30" r="1.55"/><circle cx="395.09" cy="114.30" r="1.55"/><circle cx="399.92" cy="114.30" r="1.55"/></g>
</g>
<path d="M40,24.6 H398.3 M40,121.4 H398.3 M40.2,24.6 V121.4" stroke="#904890" stroke-width="1"/>
<path d="M398,24.6 V121.1" stroke="#9a509a" stroke-width="1.8"/>
<rect x="97.5" y="70.5" width="19.5" height="3.6" fill="#000"/><path d="M116.5,67.5 L127,72.3 L116.5,77.1 Z" fill="#000"/>
<rect x="96.8" y="70.6" width="1.2" height="3.5" fill="#d04010"/>
<rect x="215.8" y="71.30000000000001" width="18.69999999999999" height="3.2" fill="#000"/><path d="M234,68.10000000000001 L245,72.9 L234,77.7 Z" fill="#000"/>
<rect x="214.8" y="71.3" width="1.3" height="3.2" fill="#d04010"/>
<rect x="75.8" y="82.1" width="48.8" height="25" fill="#fff"/>
<text x="80.15" y="100.0" font-size="14.25" textLength="40.23" lengthAdjust="spacingAndGlyphs" fill="#111" stroke="#111" stroke-width="0.12">Signal</text>
<rect x="196.4" y="81.1" width="49.6" height="24.9" fill="#fff"/>
<text x="201.69" y="99.0" font-size="13.96" textLength="38.23" lengthAdjust="spacingAndGlyphs" fill="#111" stroke="#111" stroke-width="0.12">Pump</text>
<rect x="383.4" y="50.9" width="11.4" height="40.9" fill="none" stroke="#bce8ee" stroke-width="0.9"/>
<path d="M394.3,50.9 L421.1,24.3 M394.3,91.8 L421.1,120.9" stroke="#a8ecf4" stroke-width="0.9" fill="none"/>
<g clip-path="url(#cu)"><rect x="421.1" y="24.3" width="23.3" height="96.6" fill="#d4d4d4"/>
<circle cx="420.90" cy="24.70" r="3.15" fill="#000"/><circle cx="432.40" cy="24.70" r="3.15" fill="#000"/><circle cx="443.90" cy="24.70" r="3.15" fill="#000"/><circle cx="426.65" cy="34.37" r="3.15" fill="#000"/><circle cx="438.15" cy="34.37" r="3.15" fill="#000"/><circle cx="420.90" cy="44.04" r="4.0" fill="#f00010"/><circle cx="432.40" cy="44.04" r="4.0" fill="#f00010"/><circle cx="443.90" cy="44.04" r="4.0" fill="#f00010"/><circle cx="426.65" cy="53.71" r="2.9" fill="#1010e8"/><circle cx="438.15" cy="53.71" r="2.9" fill="#1010e8"/><circle cx="420.90" cy="63.38" r="3.15" fill="#000"/><circle cx="432.40" cy="63.38" r="3.15" fill="#000"/><circle cx="443.90" cy="63.38" r="3.15" fill="#000"/><circle cx="420.90" cy="82.72" r="3.15" fill="#000"/><circle cx="432.40" cy="82.72" r="3.15" fill="#000"/><circle cx="443.90" cy="82.72" r="3.15" fill="#000"/><circle cx="426.65" cy="92.39" r="2.9" fill="#1010e8"/><circle cx="438.15" cy="92.39" r="2.9" fill="#1010e8"/><circle cx="420.90" cy="102.06" r="4.0" fill="#f00010"/><circle cx="432.40" cy="102.06" r="4.0" fill="#f00010"/><circle cx="443.90" cy="102.06" r="4.0" fill="#f00010"/><circle cx="426.65" cy="111.73" r="3.15" fill="#000"/><circle cx="438.15" cy="111.73" r="3.15" fill="#000"/><circle cx="420.90" cy="121.40" r="3.15" fill="#000"/><circle cx="432.40" cy="121.40" r="3.15" fill="#000"/><circle cx="443.90" cy="121.40" r="3.15" fill="#000"/></g>
<rect x="421.1" y="24.3" width="23.3" height="96.6" fill="none" stroke="#b0eef6" stroke-width="0.9"/>
<path d="M429.2,15.3 L429.2,25 M432.4,15.3 L432.4,25" stroke="#000" stroke-width="0.8"/>
<path d="M419.2,19.4 L426.0,19.4" stroke="#000" stroke-width="0.8"/><path d="M429.2,19.4 L425.59999999999997,17.4 L425.59999999999997,21.4 Z" fill="#000"/>
<path d="M443.6,19.4 L435.59999999999997,19.4" stroke="#000" stroke-width="0.8"/><path d="M432.4,19.4 L436.0,17.4 L436.0,21.4 Z" fill="#000"/>
<text x="432" y="13.4" font-size="7.5" font-style="italic" font-weight="bold" text-anchor="middle" fill="#000" stroke="#000" stroke-width="0.25">r</text>
<path d="M444,44.2 L454,44.2 M444,48.1 L454,48.1" stroke="#000" stroke-width="0.8"/>
<path d="M449.8,34 L449.8,41.0" stroke="#000" stroke-width="0.8"/><path d="M449.8,44.2 L447.8,40.6 L451.8,40.6 Z" fill="#000"/>
<path d="M449.8,59 L449.8,51.300000000000004" stroke="#000" stroke-width="0.8"/><path d="M449.8,48.1 L447.8,51.7 L451.8,51.7 Z" fill="#000"/>
<text x="455" y="49.1" font-size="7.3" font-weight="bold" fill="#f01818" stroke="#f01818" stroke-width="0.35">1.25<tspan font-style="italic">r</tspan></text>
<path d="M437.5,91.8 L453,91.8 M437.5,94.8 L453,94.8" stroke="#000" stroke-width="0.8"/>
<path d="M450.2,80.5 L450.2,88.6" stroke="#000" stroke-width="0.8"/><path d="M450.2,91.8 L448.2,88.2 L452.2,88.2 Z" fill="#000"/>
<path d="M450.2,105.5 L450.2,98.0" stroke="#000" stroke-width="0.8"/><path d="M450.2,94.8 L448.2,98.39999999999999 L452.2,98.39999999999999 Z" fill="#000"/>
<text x="455.1" y="96.2" font-size="7.4" font-weight="bold" fill="#1c1ce0" stroke="#1c1ce0" stroke-width="0.35">1.1<tspan font-style="italic">r</tspan></text>
<path d="M432.1,119.9 L432.1,131 M442.8,119.9 L442.8,131" stroke="#000" stroke-width="0.8"/>
<path d="M422.4,124.8 L428.90000000000003,124.8" stroke="#000" stroke-width="0.8"/><path d="M432.1,124.8 L428.5,122.8 L428.5,126.8 Z" fill="#000"/>
<path d="M454.6,124.8 L446.0,124.8" stroke="#000" stroke-width="0.8"/><path d="M442.8,124.8 L446.40000000000003,122.8 L446.40000000000003,126.8 Z" fill="#000"/>
<text x="437.9" y="134.6" font-size="6.6" font-style="italic" font-weight="bold" text-anchor="middle" fill="#000" stroke="#000" stroke-width="0.25">a</text>
<path d="M39.5,23.5 L39.5,143.4" stroke="#1a1a1a" stroke-width="1.1" stroke-dasharray="1.6,1.2"/>
<path d="M160.1,23.5 L160.1,143.4" stroke="#1a1a1a" stroke-width="1.1" stroke-dasharray="1.6,1.2"/>
<path d="M280.3,23.5 L280.3,143.4" stroke="#1a1a1a" stroke-width="1.1" stroke-dasharray="1.6,1.2"/>
<path d="M400.8,23.5 L400.8,143.4" stroke="#1a1a1a" stroke-width="1.1" stroke-dasharray="1.6,1.2"/>
<rect x="280.3" y="190.5" width="120.2" height="19.1" fill="url(#hatch)"/>
<path d="M280.3,190.9 L400.5,190.9 M280.3,209.3 L400.5,209.3" stroke="#7fe0ea" stroke-width="0.8" stroke-dasharray="1,1"/>
<path d="M52,262.8 v-1.6 M52,143.4 v1.6 M64,262.8 v-1.6 M64,143.4 v1.6 M76,262.8 v-1.6 M76,143.4 v1.6 M88,262.8 v-1.6 M88,143.4 v1.6 M100,262.8 v-1.6 M100,143.4 v1.6 M112,262.8 v-1.6 M112,143.4 v1.6 M124,262.8 v-1.6 M124,143.4 v1.6 M136,262.8 v-1.6 M136,143.4 v1.6 M148,262.8 v-1.6 M148,143.4 v1.6 M184,262.8 v-1.6 M184,143.4 v1.6 M208,262.8 v-1.6 M208,143.4 v1.6 M232,262.8 v-1.6 M232,143.4 v1.6 M256,262.8 v-1.6 M256,143.4 v1.6 M304,262.8 v-1.6 M304,143.4 v1.6 M328,262.8 v-1.6 M328,143.4 v1.6 M352,262.8 v-1.6 M352,143.4 v1.6 M376,262.8 v-1.6 M376,143.4 v1.6 M40.4,173.2 h1.6 M40.4,203 h1.6 M40.4,232.9 h1.6 M160.2,173.2 h1.6 M160.2,203 h1.6 M160.2,232.9 h1.6 M280.2,173.2 h1.6 M280.2,203 h1.6 M280.2,232.9 h1.6 M400.5,173.2 h-1.6 M400.5,173.2 h1.8 M400.5,203 h-1.6 M400.5,203 h1.8 M400.5,232.9 h-1.6 M400.5,232.9 h1.8" stroke="#777" stroke-width="0.8"/>
<rect x="40.4" y="143.4" width="360.1" height="119.4" fill="none" stroke="#8a8a8a" stroke-width="1"/>
<path d="M160.2,143.4 L160.2,262.8 M280.2,143.4 L280.2,262.8" stroke="#8a8a8a" stroke-width="1"/>
<g fill="none" stroke="#000" stroke-width="1.4" stroke-linejoin="round">
<path d="M40.20,222.30 L47.30,143.40"/>
<path d="M52.80,143.40 C53.40,144.70 55.10,148.37 56.40,151.20 C57.70,154.03 59.17,157.27 60.60,160.40 C62.03,163.53 63.33,166.83 65.00,170.00 C66.67,173.17 68.75,176.52 70.60,179.40 C72.45,182.28 74.33,184.98 76.10,187.30 C77.87,189.62 79.18,191.55 81.20,193.30 C83.22,195.05 85.57,196.47 88.20,197.80 C90.83,199.13 94.05,200.42 97.00,201.30 C99.95,202.18 102.07,202.65 105.90,203.10 C109.73,203.55 115.65,203.85 120.00,204.00 C124.35,204.15 128.42,204.03 132.00,204.00 C135.58,203.97 136.80,203.87 141.50,203.80 C146.20,203.73 157.08,203.63 160.20,203.60"/>
<path d="M40.40,259.20 C41.58,257.93 44.73,254.13 47.50,251.60 C50.27,249.07 53.83,246.05 57.00,244.00 C60.17,241.95 63.65,240.32 66.50,239.30 C69.35,238.28 71.88,238.00 74.10,237.90 C76.32,237.80 77.27,237.83 79.80,238.70 C82.33,239.57 86.13,241.58 89.30,243.10 C92.47,244.62 95.95,246.22 98.80,247.80 C101.65,249.38 103.87,250.70 106.40,252.60 C108.93,254.50 111.93,257.40 114.00,259.20 C116.07,261.00 118.00,262.70 118.80,263.40"/>
<path d="M159.60,216.00 L166.60,143.40"/>
<path d="M169.70,143.40 C170.65,145.60 173.82,153.17 175.40,156.60 C176.98,160.03 178.03,161.50 179.20,164.00 C180.37,166.50 181.23,169.05 182.40,171.60 C183.57,174.15 184.93,176.75 186.20,179.30 C187.47,181.85 188.73,184.37 190.00,186.90 C191.27,189.43 192.37,192.28 193.80,194.50 C195.23,196.72 197.08,198.67 198.60,200.20 C200.12,201.73 201.37,202.60 202.90,203.70 C204.43,204.80 206.15,205.92 207.80,206.80 C209.45,207.68 211.10,208.33 212.80,209.00 C214.50,209.67 215.85,210.23 218.00,210.80 C220.15,211.37 222.73,211.98 225.70,212.40 C228.67,212.82 232.58,213.12 235.80,213.30 C239.02,213.48 237.60,213.47 245.00,213.50 C252.40,213.53 274.33,213.50 280.20,213.50"/>
<path d="M167.60,262.80 C168.58,261.82 171.38,258.67 173.50,256.90 C175.62,255.13 178.03,253.42 180.30,252.20 C182.57,250.98 184.85,250.08 187.10,249.60 C189.35,249.12 191.55,249.15 193.80,249.30 C196.05,249.45 198.05,249.65 200.60,250.50 C203.15,251.35 206.28,252.98 209.10,254.40 C211.92,255.82 215.10,257.60 217.50,259.00 C219.90,260.40 222.50,262.17 223.50,262.80"/>
<path d="M306.40,143.40 C307.10,145.30 309.20,151.13 310.60,154.80 C312.00,158.47 313.38,162.22 314.80,165.40 C316.22,168.58 317.68,171.42 319.10,173.90 C320.52,176.38 321.90,178.35 323.30,180.30 C324.70,182.25 325.80,183.88 327.50,185.60 C329.20,187.32 332.50,189.77 333.50,190.60"/>
<path d="M360.40,209.40 C361.42,209.90 364.47,211.40 366.50,212.40 C368.53,213.40 370.32,214.38 372.60,215.40 C374.88,216.42 377.15,217.68 380.20,218.50 C383.25,219.32 387.52,219.88 390.90,220.30 C394.28,220.72 398.90,220.88 400.50,221.00"/>
<path d="M280.20,249.70 L289.80,237.90"/>
<path d="M343.60,238.00 C344.77,238.82 348.37,241.28 350.60,242.90 C352.83,244.52 354.88,245.85 357.00,247.70 C359.12,249.55 361.45,252.07 363.30,254.00 C365.15,255.93 366.68,257.83 368.10,259.30 C369.52,260.77 371.18,262.22 371.80,262.80"/>
</g>
<path d="M333.5,190.6 L347,199.5 L360.4,209.4" stroke="#e01010" stroke-width="1.3" fill="none"/>
<path d="M80.9,194.2 L330,194.2 M207.6,207.2 L351,207.2" stroke="#111" stroke-width="1"/>
<path d="M335,194.2 L329.2,191.6 L329.2,196.8 Z M356,207.2 L350.2,204.6 L350.2,209.8 Z" fill="#000"/>
<path d="M320.2,195 L317.6,199.8 L322.8,199.8 Z M320.2,206.4 L317.6,201.4 L322.8,201.4 Z" fill="#f01010"/><path d="M320.2,199 L320.2,202" stroke="#f01010" stroke-width="0.8"/>
<rect x="288.9" y="212.4" width="83.5" height="26" fill="#f50000"/>
<text x="296.53" y="230.8" font-size="16.0" textLength="70.29" lengthAdjust="spacingAndGlyphs" fill="#fff" stroke="#fff" stroke-width="0.12">THz-DFG</text>
<text x="82.05" y="190.6" font-size="11.64" textLength="34.08" lengthAdjust="spacingAndGlyphs" fill="#1a1a1a" stroke="#1a1a1a" stroke-width="0.12">Signal</text>
<text x="208.48" y="205.0" font-size="11.2" textLength="32.35" lengthAdjust="spacingAndGlyphs" fill="#1a1a1a" stroke="#1a1a1a" stroke-width="0.12">Pump</text>
<text x="363.66" y="205.2" font-size="12.07" textLength="30.53" lengthAdjust="spacingAndGlyphs" fill="#1a1a1a" stroke="#1a1a1a" stroke-width="0.12">LVLD</text>
<text x="19.53" y="146.2" font-size="9.89" textLength="17.83" lengthAdjust="spacingAndGlyphs" fill="#1a1a1a" stroke="#1a1a1a" stroke-width="0.12">0.24</text>
<text x="19.53" y="205.9" font-size="9.89" textLength="17.97" lengthAdjust="spacingAndGlyphs" fill="#1a1a1a" stroke="#1a1a1a" stroke-width="0.12">0.23</text>
<text x="19.53" y="265.7" font-size="9.89" textLength="18.05" lengthAdjust="spacingAndGlyphs" fill="#1a1a1a" stroke="#1a1a1a" stroke-width="0.12">0.22</text>
<text x="402.98" y="146.6" font-size="10.04" textLength="21.4" lengthAdjust="spacingAndGlyphs" fill="#1a1a1a" stroke="#1a1a1a" stroke-width="0.12">1500</text>
<text x="402.98" y="206.3" font-size="10.04" textLength="21.45" lengthAdjust="spacingAndGlyphs" fill="#1a1a1a" stroke="#1a1a1a" stroke-width="0.12">1556</text>
<text x="402.98" y="266.1" font-size="10.04" textLength="21.43" lengthAdjust="spacingAndGlyphs" fill="#1a1a1a" stroke="#1a1a1a" stroke-width="0.12">1615</text>
<text class="serif" x="219.8" y="281.2" font-size="18" font-style="italic" text-anchor="middle" fill="#000">k</text>
<text transform="translate(12.9,206.5) rotate(-90)" font-size="16" text-anchor="middle" fill="#111" stroke="#111" stroke-width="0.2"><tspan class="serif" font-style="italic">ω</tspan>a / 2<tspan class="serif" font-style="italic">π</tspan>c</text>
<text transform="translate(438.7,202.9) rotate(-90)" font-size="13.6" text-anchor="middle" fill="#111" stroke="#111" stroke-width="0.25">Wavelength (nm)</text>
</svg></body></html>
